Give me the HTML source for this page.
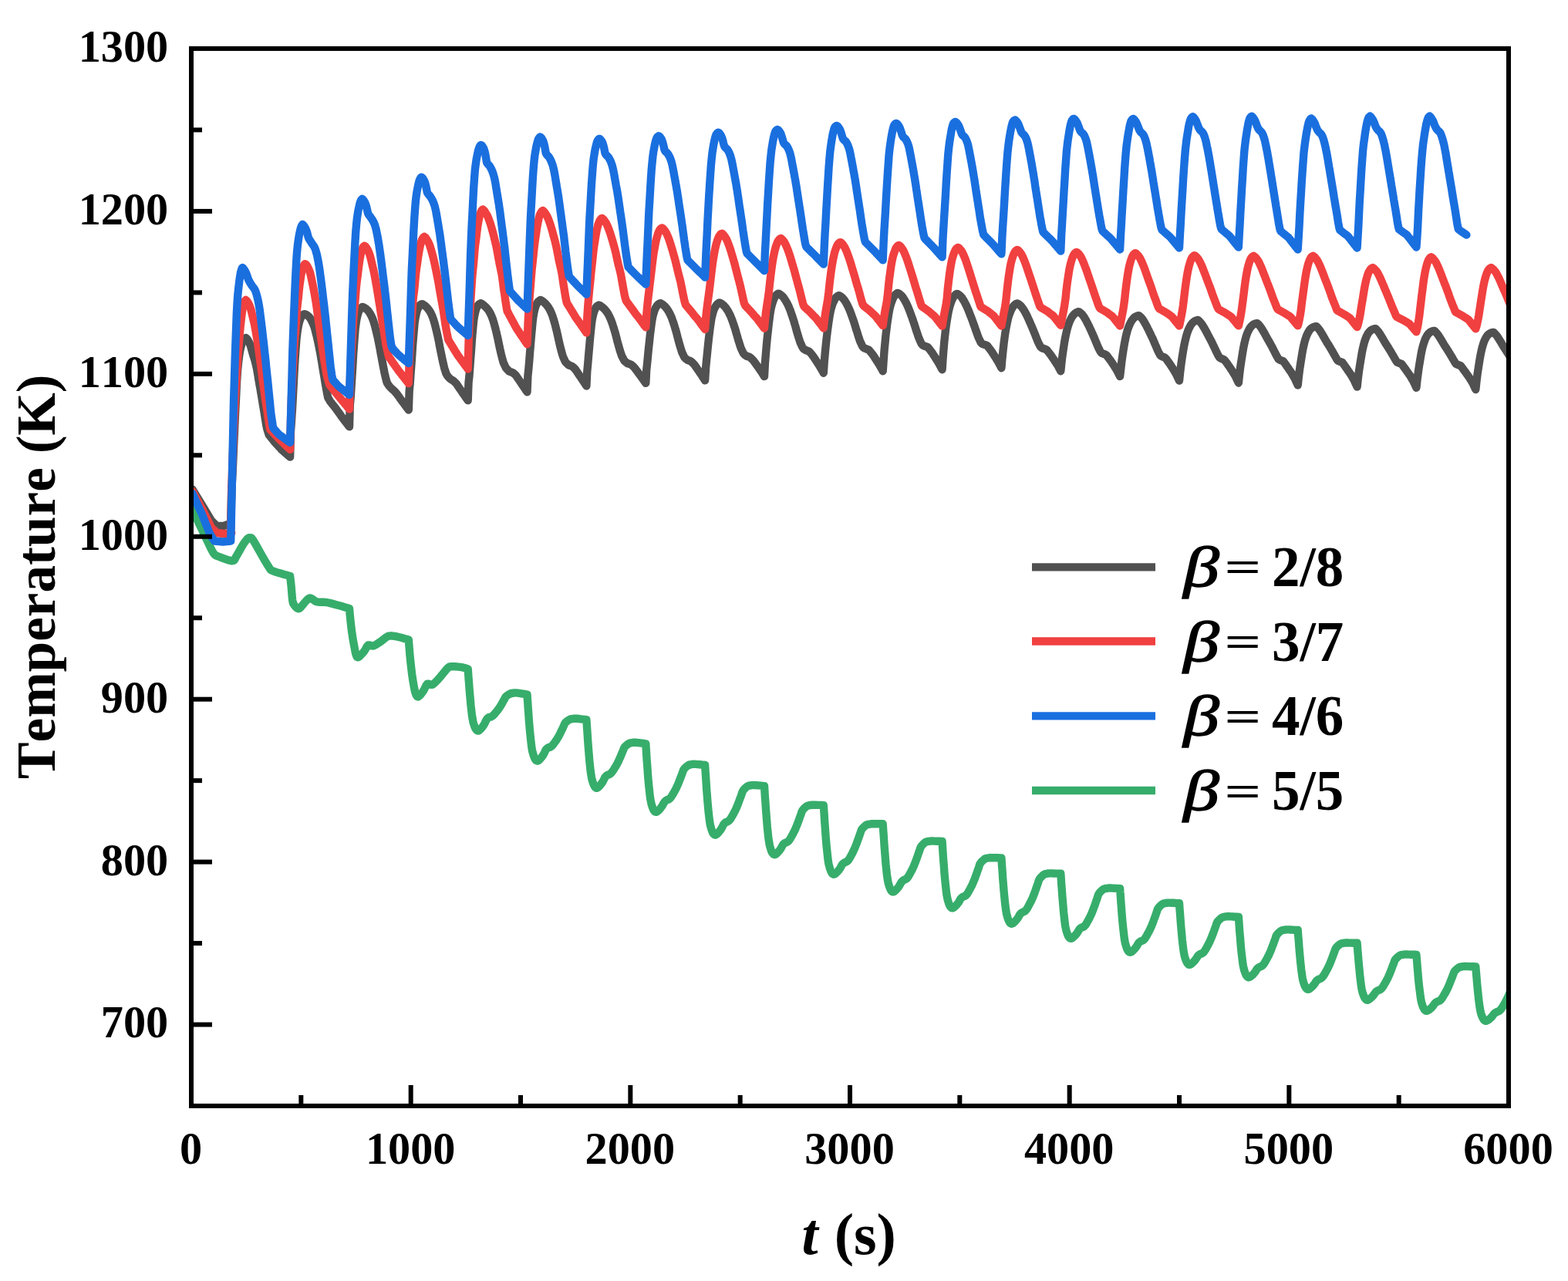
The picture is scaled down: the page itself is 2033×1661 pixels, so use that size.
<!DOCTYPE html>
<html><head><meta charset="utf-8"><title>Temperature vs t</title>
<style>
html,body{margin:0;padding:0;background:#fff;}
body{width:2033px;height:1661px;overflow:hidden;}
svg{display:block;}
text{font-family:"Liberation Serif","Times New Roman",serif;font-weight:bold;fill:#000;font-kerning:none;}
.tk{font-size:58.3px;}
.lg{font-size:73px;}
.ti{font-size:73px;}
.bi{font-style:italic;}
.beta{font-style:italic;font-weight:normal;stroke:#000;stroke-width:1.5px;}
.eq{font-weight:bold;}
.xt{font-size:76px;}
.yt{font-size:71.3px;}
.crv{fill:none;stroke-width:10.4;stroke-linejoin:round;stroke-linecap:round;}
</style></head>
<body>
<svg width="2033" height="1661" viewBox="0 0 2033 1661">
<rect x="0" y="0" width="2033" height="1661" fill="#fff"/>
<defs><clipPath id="cp"><rect x="248" y="63" width="1708" height="1371"/></clipPath></defs>
<g clip-path="url(#cp)">
<path class="crv" stroke="#37ad6b" d="M249.5,661.0 L253.8,669.9 L258.0,678.7 L262.0,687.0 L265.7,694.8 L269.1,702.0 L272.0,708.0 L274.1,712.4 L275.8,715.6 L277.4,718.0 L278.8,719.6 L280.2,720.4 L283.0,721.5 L288.6,723.7 L295.5,726.1 L301.0,727.3 L303.5,726.7 L304.6,724.8 L306.0,722.0 L308.5,717.8 L311.4,712.6 L314.0,708.0 L316.2,704.5 L318.2,701.7 L320.0,699.5 L321.4,698.1 L322.5,697.4 L323.7,697.2 L324.8,697.1 L326.0,697.5 L328.0,700.0 L331.5,705.9 L335.9,713.8 L340.0,721.0 L343.4,726.9 L346.5,732.0 L349.0,736.0 L350.4,738.2 L351.3,739.1 L353.0,740.0 L356.1,741.2 L360.0,742.4 L364.0,743.5 L367.9,744.7 L371.8,745.8 L375.8,747.0 L376.1,747.0 L376.6,751.2 L377.1,755.3 L377.6,760.0 L378.1,765.9 L378.6,772.3 L379.1,777.5 L379.6,780.5 L380.1,782.3 L381.1,784.0 L382.7,786.2 L384.8,788.2 L386.7,789.3 L388.2,788.9 L389.6,787.6 L391.1,786.0 L392.7,784.1 L394.4,782.0 L396.1,780.0 L397.9,778.1 L399.7,776.5 L401.4,775.5 L403.0,775.7 L404.5,776.5 L406.1,777.5 L407.5,778.5 L408.9,779.6 L411.1,780.4 L414.5,780.7 L418.7,780.7 L423.1,781.0 L427.5,781.9 L432.1,783.1 L436.9,784.4 L442.1,785.8 L447.5,787.4 L453.0,789.0 L453.5,795.2 L454.1,801.4 L454.8,807.7 L455.5,814.3 L456.4,820.9 L457.3,827.0 L458.2,832.3 L459.1,836.9 L459.9,840.9 L460.4,844.0 L460.9,846.5 L461.5,848.5 L462.2,850.5 L463.0,852.0 L464.4,852.3 L466.8,850.5 L469.7,847.5 L472.3,844.4 L474.1,841.4 L475.5,838.5 L477.2,836.5 L479.2,836.4 L481.5,837.3 L484.1,837.5 L487.1,836.1 L490.5,833.9 L493.9,831.6 L497.1,829.1 L500.4,826.5 L503.8,824.7 L507.5,824.3 L511.4,824.9 L515.6,825.7 L520.2,826.8 L525.0,828.2 L529.8,829.6 L530.4,836.8 L531.0,844.1 L531.6,851.4 L532.4,859.1 L533.3,866.9 L534.1,873.9 L535.0,880.1 L535.9,885.6 L536.7,890.2 L537.4,893.9 L538.0,896.7 L538.8,899.1 L539.7,901.3 L540.8,903.1 L542.2,903.5 L544.3,901.8 L546.8,898.8 L549.1,895.6 L550.8,892.3 L552.3,889.0 L554.0,886.7 L556.0,886.7 L558.3,887.8 L560.9,887.7 L563.9,885.3 L567.3,881.7 L570.7,877.9 L574.1,873.8 L577.6,869.4 L580.6,866.1 L582.6,864.6 L584.2,864.2 L586.5,864.1 L590.1,864.2 L594.4,864.6 L598.3,865.1 L601.3,865.8 L604.0,866.6 L606.7,867.4 L607.0,871.7 L607.3,876.0 L607.6,880.8 L608.1,886.2 L608.5,892.1 L609.0,898.0 L609.5,903.7 L610.0,909.3 L610.5,915.0 L611.2,921.0 L611.9,927.1 L612.7,932.1 L613.4,935.7 L614.1,938.4 L614.9,940.7 L615.6,942.8 L616.4,944.5 L617.3,945.8 L618.2,946.9 L619.1,947.5 L620.2,947.6 L621.4,947.0 L622.7,945.8 L624.0,944.4 L625.3,942.8 L626.7,940.9 L627.9,939.0 L628.9,936.9 L629.9,934.8 L630.8,933.1 L631.7,931.8 L632.7,930.9 L633.7,930.2 L634.7,929.8 L635.6,929.7 L636.6,929.4 L637.5,929.0 L638.4,928.4 L639.4,927.6 L640.5,926.5 L641.7,925.1 L642.9,923.7 L643.9,922.5 L644.8,921.4 L645.8,920.2 L646.8,918.8 L647.7,917.4 L648.7,915.9 L649.6,914.3 L650.6,912.7 L651.5,911.0 L652.4,909.4 L653.3,907.7 L654.2,906.2 L654.8,904.9 L655.4,903.9 L656.3,902.8 L657.9,901.6 L659.8,900.4 L661.6,899.5 L663.0,899.0 L664.2,898.8 L665.4,898.7 L666.6,898.5 L667.8,898.4 L669.3,898.4 L671.3,898.6 L673.6,898.9 L676.0,899.3 L678.4,899.7 L681.0,900.2 L683.5,900.7 L683.8,905.3 L684.2,910.0 L684.5,915.1 L684.9,920.9 L685.4,927.2 L685.8,933.5 L686.3,939.6 L686.8,945.7 L687.4,951.8 L688.1,958.2 L688.8,964.7 L689.5,970.1 L690.2,974.0 L691.0,976.8 L691.7,979.3 L692.5,981.5 L693.3,983.4 L694.1,984.8 L695.0,985.9 L696.0,986.6 L697.0,986.7 L698.2,986.1 L699.5,984.9 L700.8,983.5 L702.2,981.9 L703.5,980.1 L704.7,978.2 L705.8,976.2 L706.7,974.2 L707.6,972.4 L708.6,971.2 L709.6,970.3 L710.5,969.6 L711.5,969.2 L712.5,969.0 L713.4,968.7 L714.4,968.2 L715.3,967.5 L716.2,966.5 L717.4,965.1 L718.6,963.5 L719.7,961.9 L720.8,960.5 L721.7,959.1 L722.6,957.6 L723.6,956.0 L724.6,954.3 L725.5,952.5 L726.5,950.6 L727.4,948.7 L728.3,946.7 L729.3,944.8 L730.2,942.8 L731.0,941.0 L731.7,939.5 L732.2,938.2 L733.1,936.9 L734.7,935.5 L736.7,934.1 L738.4,933.0 L739.8,932.4 L741.0,932.2 L742.2,932.1 L743.4,931.9 L744.6,931.7 L746.1,931.7 L748.1,931.8 L750.4,932.0 L752.8,932.3 L755.3,932.6 L757.8,932.9 L760.4,933.2 L760.7,938.0 L761.0,942.8 L761.4,948.0 L761.8,954.0 L762.2,960.5 L762.7,967.0 L763.2,973.3 L763.7,979.5 L764.2,985.8 L764.9,992.5 L765.6,999.1 L766.4,1004.7 L767.1,1008.7 L767.8,1011.7 L768.6,1014.2 L769.4,1016.5 L770.2,1018.4 L771.0,1019.9 L771.9,1021.0 L772.8,1021.7 L773.9,1021.8 L775.1,1021.2 L776.4,1020.1 L777.7,1018.7 L779.0,1017.1 L780.4,1015.3 L781.6,1013.5 L782.6,1011.5 L783.6,1009.5 L784.5,1007.8 L785.5,1006.6 L786.4,1005.7 L787.4,1005.0 L788.4,1004.6 L789.3,1004.4 L790.3,1004.0 L791.2,1003.4 L792.1,1002.6 L793.1,1001.6 L794.2,1000.0 L795.5,998.2 L796.6,996.4 L797.6,994.8 L798.6,993.3 L799.5,991.6 L800.5,989.8 L801.4,987.9 L802.4,985.9 L803.3,983.8 L804.3,981.7 L805.2,979.5 L806.1,977.3 L807.0,975.1 L807.9,973.1 L808.5,971.4 L809.1,970.0 L810.0,968.5 L811.6,966.9 L813.5,965.3 L815.3,964.1 L816.7,963.5 L817.9,963.3 L819.1,963.1 L820.3,962.9 L821.5,962.7 L823.0,962.7 L825.0,962.8 L827.3,963.1 L829.7,963.3 L832.2,963.6 L834.7,964.0 L837.3,964.3 L837.6,969.1 L837.9,973.9 L838.2,979.1 L838.6,985.1 L839.1,991.6 L839.6,998.1 L840.0,1004.4 L840.5,1010.6 L841.1,1016.9 L841.8,1023.6 L842.5,1030.2 L843.2,1035.8 L844.0,1039.8 L844.7,1042.8 L845.5,1045.3 L846.2,1047.6 L847.0,1049.5 L847.9,1051.0 L848.8,1052.1 L849.7,1052.7 L850.8,1052.9 L852.0,1052.4 L853.3,1051.3 L854.6,1050.1 L855.9,1048.6 L857.2,1046.9 L858.5,1045.2 L859.5,1043.4 L860.4,1041.6 L861.4,1040.1 L862.3,1039.0 L863.3,1038.1 L864.3,1037.5 L865.2,1037.1 L866.2,1036.8 L867.2,1036.4 L868.1,1035.7 L869.0,1034.9 L870.0,1033.7 L871.1,1032.0 L872.3,1030.0 L873.5,1028.0 L874.5,1026.2 L875.4,1024.5 L876.4,1022.7 L877.3,1020.8 L878.3,1018.6 L879.3,1016.4 L880.2,1014.1 L881.1,1011.7 L882.1,1009.3 L883.0,1006.9 L883.9,1004.5 L884.8,1002.2 L885.4,1000.4 L885.9,998.8 L886.9,997.2 L888.4,995.5 L890.4,993.7 L892.2,992.4 L893.5,991.7 L894.7,991.5 L896.0,991.3 L897.1,991.0 L898.3,990.9 L899.9,990.8 L901.9,990.9 L904.2,991.1 L906.6,991.3 L909.0,991.5 L911.6,991.8 L914.1,992.0 L914.4,996.9 L914.7,1001.8 L915.1,1007.1 L915.5,1013.3 L915.9,1019.9 L916.4,1026.6 L916.9,1033.0 L917.4,1039.4 L918.0,1045.9 L918.6,1052.7 L919.4,1059.5 L920.1,1065.2 L920.8,1069.3 L921.6,1072.3 L922.3,1074.9 L923.1,1077.3 L923.9,1079.2 L924.7,1080.7 L925.6,1081.8 L926.6,1082.5 L927.6,1082.7 L928.8,1082.1 L930.1,1081.0 L931.4,1079.6 L932.7,1078.1 L934.1,1076.3 L935.3,1074.5 L936.4,1072.6 L937.3,1070.6 L938.2,1068.9 L939.2,1067.8 L940.2,1066.9 L941.1,1066.2 L942.1,1065.8 L943.1,1065.5 L944.0,1065.0 L944.9,1064.4 L945.8,1063.5 L946.8,1062.3 L948.0,1060.5 L949.2,1058.4 L950.3,1056.4 L951.3,1054.6 L952.3,1052.8 L953.2,1051.0 L954.2,1048.9 L955.2,1046.7 L956.1,1044.5 L957.1,1042.1 L958.0,1039.6 L958.9,1037.1 L959.8,1034.6 L960.8,1032.1 L961.6,1029.8 L962.2,1027.9 L962.8,1026.3 L963.7,1024.7 L965.3,1022.8 L967.2,1021.0 L969.0,1019.6 L970.4,1018.9 L971.6,1018.7 L972.8,1018.5 L974.0,1018.2 L975.2,1018.1 L976.7,1018.0 L978.7,1018.1 L981.0,1018.2 L983.4,1018.4 L985.9,1018.6 L988.4,1018.9 L991.0,1019.1 L991.3,1023.9 L991.6,1028.7 L991.9,1034.0 L992.4,1040.0 L992.8,1046.5 L993.3,1053.0 L993.8,1059.4 L994.3,1065.7 L994.8,1072.0 L995.5,1078.7 L996.2,1085.4 L997.0,1091.0 L997.7,1095.0 L998.4,1098.0 L999.2,1100.5 L999.9,1102.9 L1000.7,1104.8 L1001.6,1106.2 L1002.5,1107.3 L1003.4,1108.0 L1004.5,1108.2 L1005.7,1107.7 L1007.0,1106.6 L1008.3,1105.4 L1009.6,1103.9 L1011.0,1102.3 L1012.2,1100.6 L1013.2,1098.8 L1014.2,1097.0 L1015.1,1095.4 L1016.0,1094.3 L1017.0,1093.5 L1018.0,1092.9 L1019.0,1092.5 L1019.9,1092.2 L1020.9,1091.7 L1021.8,1091.0 L1022.7,1090.2 L1023.7,1088.9 L1024.8,1087.1 L1026.0,1085.0 L1027.2,1082.9 L1028.2,1081.0 L1029.1,1079.3 L1030.1,1077.4 L1031.1,1075.3 L1032.0,1073.0 L1033.0,1070.7 L1033.9,1068.3 L1034.9,1065.8 L1035.8,1063.2 L1036.7,1060.7 L1037.6,1058.1 L1038.5,1055.8 L1039.1,1053.8 L1039.7,1052.2 L1040.6,1050.5 L1042.2,1048.6 L1044.1,1046.8 L1045.9,1045.4 L1047.3,1044.7 L1048.5,1044.4 L1049.7,1044.2 L1050.9,1044.0 L1052.1,1043.8 L1053.6,1043.7 L1055.6,1043.7 L1057.9,1043.8 L1060.3,1043.9 L1062.7,1043.9 L1065.3,1044.0 L1067.8,1044.1 L1068.1,1048.9 L1068.5,1053.8 L1068.8,1059.1 L1069.2,1065.2 L1069.7,1071.7 L1070.1,1078.3 L1070.6,1084.7 L1071.1,1091.0 L1071.7,1097.4 L1072.4,1104.1 L1073.1,1110.8 L1073.8,1116.5 L1074.5,1120.5 L1075.3,1123.5 L1076.0,1126.1 L1076.8,1128.4 L1077.6,1130.3 L1078.4,1131.8 L1079.3,1132.9 L1080.3,1133.6 L1081.3,1133.8 L1082.5,1133.3 L1083.8,1132.2 L1085.1,1131.0 L1086.5,1129.5 L1087.8,1127.9 L1089.0,1126.2 L1090.1,1124.4 L1091.0,1122.6 L1091.9,1121.0 L1092.9,1119.9 L1093.9,1119.2 L1094.8,1118.5 L1095.8,1118.1 L1096.8,1117.8 L1097.7,1117.3 L1098.7,1116.6 L1099.6,1115.7 L1100.5,1114.4 L1101.7,1112.6 L1102.9,1110.4 L1104.0,1108.3 L1105.1,1106.4 L1106.0,1104.6 L1106.9,1102.6 L1107.9,1100.5 L1108.9,1098.2 L1109.8,1095.9 L1110.8,1093.4 L1111.7,1090.8 L1112.6,1088.2 L1113.6,1085.6 L1114.5,1083.0 L1115.3,1080.6 L1116.0,1078.6 L1116.5,1076.9 L1117.4,1075.2 L1119.0,1073.3 L1121.0,1071.4 L1122.7,1070.0 L1124.1,1069.3 L1125.3,1069.0 L1126.5,1068.8 L1127.7,1068.6 L1128.9,1068.4 L1130.4,1068.3 L1132.4,1068.3 L1134.7,1068.3 L1137.1,1068.3 L1139.6,1068.3 L1142.1,1068.3 L1144.7,1068.3 L1145.0,1073.1 L1145.3,1077.8 L1145.7,1083.0 L1146.1,1089.0 L1146.5,1095.5 L1147.0,1101.9 L1147.5,1108.2 L1148.0,1114.4 L1148.5,1120.7 L1149.2,1127.3 L1149.9,1133.9 L1150.7,1139.5 L1151.4,1143.5 L1152.1,1146.4 L1152.9,1148.9 L1153.7,1151.2 L1154.5,1153.1 L1155.3,1154.6 L1156.2,1155.7 L1157.1,1156.3 L1158.2,1156.5 L1159.4,1156.0 L1160.7,1154.9 L1162.0,1153.7 L1163.3,1152.2 L1164.7,1150.5 L1165.9,1148.8 L1166.9,1147.0 L1167.9,1145.2 L1168.8,1143.7 L1169.8,1142.6 L1170.7,1141.8 L1171.7,1141.1 L1172.7,1140.7 L1173.6,1140.4 L1174.6,1139.9 L1175.5,1139.2 L1176.4,1138.3 L1177.4,1137.0 L1178.5,1135.2 L1179.8,1132.9 L1180.9,1130.8 L1181.9,1128.9 L1182.9,1127.1 L1183.8,1125.1 L1184.8,1123.0 L1185.7,1120.7 L1186.7,1118.3 L1187.6,1115.8 L1188.6,1113.2 L1189.5,1110.6 L1190.4,1107.9 L1191.3,1105.3 L1192.2,1102.9 L1192.8,1100.9 L1193.4,1099.2 L1194.3,1097.5 L1195.9,1095.6 L1197.8,1093.7 L1199.6,1092.2 L1201.0,1091.5 L1202.2,1091.2 L1203.4,1091.0 L1204.6,1090.8 L1205.8,1090.6 L1207.3,1090.5 L1209.3,1090.5 L1211.6,1090.6 L1214.0,1090.7 L1216.5,1090.7 L1219.0,1090.8 L1221.6,1090.9 L1221.9,1095.6 L1222.2,1100.2 L1222.5,1105.4 L1222.9,1111.2 L1223.4,1117.6 L1223.9,1123.9 L1224.3,1130.0 L1224.8,1136.2 L1225.4,1142.3 L1226.1,1148.8 L1226.8,1155.3 L1227.5,1160.8 L1228.3,1164.7 L1229.0,1167.6 L1229.8,1170.1 L1230.5,1172.3 L1231.3,1174.2 L1232.2,1175.6 L1233.1,1176.7 L1234.0,1177.3 L1235.1,1177.5 L1236.3,1177.0 L1237.6,1176.0 L1238.9,1174.8 L1240.2,1173.4 L1241.5,1171.8 L1242.8,1170.2 L1243.8,1168.5 L1244.7,1166.7 L1245.7,1165.2 L1246.6,1164.2 L1247.6,1163.4 L1248.6,1162.8 L1249.5,1162.4 L1250.5,1162.1 L1251.5,1161.6 L1252.4,1160.9 L1253.3,1160.0 L1254.3,1158.7 L1255.4,1156.9 L1256.6,1154.6 L1257.8,1152.5 L1258.8,1150.6 L1259.7,1148.8 L1260.7,1146.8 L1261.6,1144.7 L1262.6,1142.4 L1263.6,1140.0 L1264.5,1137.5 L1265.4,1134.9 L1266.4,1132.3 L1267.3,1129.6 L1268.2,1127.0 L1269.1,1124.6 L1269.7,1122.6 L1270.2,1120.9 L1271.2,1119.2 L1272.7,1117.3 L1274.7,1115.4 L1276.5,1113.9 L1277.8,1113.2 L1279.0,1112.9 L1280.3,1112.7 L1281.4,1112.5 L1282.6,1112.3 L1284.2,1112.2 L1286.2,1112.2 L1288.5,1112.2 L1290.9,1112.3 L1293.3,1112.3 L1295.9,1112.4 L1298.4,1112.4 L1298.7,1117.0 L1299.0,1121.6 L1299.4,1126.7 L1299.8,1132.5 L1300.2,1138.7 L1300.7,1144.9 L1301.2,1151.0 L1301.7,1157.1 L1302.3,1163.1 L1302.9,1169.5 L1303.7,1175.9 L1304.4,1181.3 L1305.1,1185.2 L1305.9,1188.0 L1306.6,1190.5 L1307.4,1192.7 L1308.2,1194.5 L1309.0,1195.9 L1309.9,1197.0 L1310.9,1197.6 L1311.9,1197.8 L1313.1,1197.3 L1314.4,1196.3 L1315.7,1195.1 L1317.0,1193.7 L1318.4,1192.1 L1319.6,1190.4 L1320.7,1188.7 L1321.6,1186.9 L1322.5,1185.5 L1323.5,1184.4 L1324.5,1183.6 L1325.4,1183.0 L1326.4,1182.6 L1327.4,1182.3 L1328.3,1181.8 L1329.2,1181.1 L1330.1,1180.2 L1331.1,1178.9 L1332.3,1177.1 L1333.5,1174.8 L1334.6,1172.7 L1335.6,1170.8 L1336.6,1169.0 L1337.5,1167.0 L1338.5,1164.9 L1339.5,1162.6 L1340.4,1160.2 L1341.4,1157.7 L1342.3,1155.1 L1343.2,1152.5 L1344.1,1149.8 L1345.1,1147.2 L1345.9,1144.8 L1346.5,1142.8 L1347.1,1141.1 L1348.0,1139.4 L1349.6,1137.5 L1351.5,1135.6 L1353.3,1134.1 L1354.7,1133.4 L1355.9,1133.1 L1357.1,1132.9 L1358.3,1132.7 L1359.5,1132.5 L1361.0,1132.4 L1363.0,1132.4 L1365.3,1132.5 L1367.7,1132.6 L1370.2,1132.6 L1372.7,1132.7 L1375.3,1132.8 L1375.6,1137.3 L1375.9,1141.9 L1376.2,1146.8 L1376.7,1152.6 L1377.1,1158.7 L1377.6,1164.8 L1378.1,1170.8 L1378.6,1176.8 L1379.1,1182.8 L1379.8,1189.1 L1380.5,1195.4 L1381.2,1200.7 L1382.0,1204.5 L1382.7,1207.3 L1383.5,1209.7 L1384.2,1211.9 L1385.0,1213.7 L1385.9,1215.0 L1386.8,1216.1 L1387.7,1216.7 L1388.8,1216.9 L1390.0,1216.4 L1391.3,1215.4 L1392.6,1214.3 L1393.9,1212.9 L1395.3,1211.4 L1396.5,1209.8 L1397.5,1208.2 L1398.5,1206.5 L1399.4,1205.1 L1400.3,1204.0 L1401.3,1203.3 L1402.3,1202.7 L1403.3,1202.3 L1404.2,1202.0 L1405.2,1201.5 L1406.1,1200.7 L1407.0,1199.8 L1408.0,1198.6 L1409.1,1196.7 L1410.3,1194.4 L1411.5,1192.3 L1412.5,1190.3 L1413.4,1188.5 L1414.4,1186.5 L1415.4,1184.3 L1416.3,1182.0 L1417.3,1179.6 L1418.2,1177.1 L1419.2,1174.5 L1420.1,1171.8 L1421.0,1169.1 L1421.9,1166.5 L1422.8,1164.0 L1423.4,1162.0 L1424.0,1160.3 L1424.9,1158.6 L1426.5,1156.6 L1428.4,1154.7 L1430.2,1153.2 L1431.6,1152.5 L1432.8,1152.2 L1434.0,1152.0 L1435.2,1151.8 L1436.4,1151.6 L1437.9,1151.5 L1439.9,1151.5 L1442.2,1151.6 L1444.6,1151.7 L1447.0,1151.9 L1449.6,1152.0 L1452.1,1152.1 L1452.4,1156.6 L1452.8,1161.0 L1453.1,1165.9 L1453.5,1171.5 L1454.0,1177.6 L1454.4,1183.6 L1454.9,1189.5 L1455.4,1195.4 L1456.0,1201.2 L1456.7,1207.4 L1457.4,1213.6 L1458.1,1218.8 L1458.8,1222.6 L1459.6,1225.3 L1460.3,1227.7 L1461.1,1229.8 L1461.9,1231.6 L1462.7,1233.0 L1463.6,1234.0 L1464.6,1234.7 L1465.6,1234.8 L1466.8,1234.3 L1468.1,1233.3 L1469.4,1232.1 L1470.8,1230.8 L1472.1,1229.2 L1473.3,1227.6 L1474.4,1226.0 L1475.3,1224.2 L1476.2,1222.8 L1477.2,1221.8 L1478.2,1221.0 L1479.1,1220.4 L1480.1,1220.0 L1481.1,1219.7 L1482.0,1219.2 L1483.0,1218.5 L1483.9,1217.6 L1484.8,1216.4 L1486.0,1214.5 L1487.2,1212.4 L1488.3,1210.2 L1489.4,1208.4 L1490.3,1206.6 L1491.2,1204.7 L1492.2,1202.5 L1493.2,1200.3 L1494.1,1197.9 L1495.1,1195.5 L1496.0,1192.9 L1496.9,1190.4 L1497.9,1187.8 L1498.8,1185.2 L1499.6,1182.8 L1500.3,1180.9 L1500.8,1179.2 L1501.7,1177.5 L1503.3,1175.6 L1505.3,1173.7 L1507.0,1172.3 L1508.4,1171.6 L1509.6,1171.3 L1510.8,1171.1 L1512.0,1170.9 L1513.2,1170.7 L1514.7,1170.6 L1516.7,1170.6 L1519.0,1170.7 L1521.4,1170.8 L1523.9,1171.0 L1526.4,1171.1 L1529.0,1171.2 L1529.3,1175.5 L1529.6,1179.8 L1530.0,1184.5 L1530.4,1189.9 L1530.8,1195.7 L1531.3,1201.6 L1531.8,1207.2 L1532.3,1212.9 L1532.8,1218.5 L1533.5,1224.5 L1534.2,1230.5 L1535.0,1235.5 L1535.7,1239.1 L1536.4,1241.8 L1537.2,1244.0 L1538.0,1246.1 L1538.8,1247.8 L1539.6,1249.1 L1540.5,1250.1 L1541.4,1250.8 L1542.5,1250.9 L1543.7,1250.4 L1545.0,1249.5 L1546.3,1248.4 L1547.6,1247.1 L1549.0,1245.6 L1550.2,1244.1 L1551.2,1242.5 L1552.2,1240.9 L1553.1,1239.5 L1554.1,1238.5 L1555.0,1237.8 L1556.0,1237.2 L1557.0,1236.8 L1557.9,1236.5 L1558.9,1236.0 L1559.8,1235.3 L1560.7,1234.5 L1561.7,1233.2 L1562.8,1231.5 L1564.1,1229.3 L1565.2,1227.2 L1566.2,1225.4 L1567.2,1223.6 L1568.1,1221.7 L1569.1,1219.7 L1570.0,1217.4 L1571.0,1215.1 L1571.9,1212.7 L1572.9,1210.2 L1573.8,1207.7 L1574.7,1205.2 L1575.6,1202.6 L1576.5,1200.3 L1577.1,1198.4 L1577.7,1196.7 L1578.6,1195.0 L1580.2,1193.2 L1582.1,1191.4 L1583.9,1190.0 L1585.3,1189.3 L1586.5,1189.0 L1587.7,1188.8 L1588.9,1188.5 L1590.1,1188.4 L1591.6,1188.3 L1593.6,1188.3 L1595.9,1188.4 L1598.3,1188.5 L1600.8,1188.7 L1603.3,1188.8 L1605.9,1188.9 L1606.2,1193.1 L1606.5,1197.4 L1606.8,1202.0 L1607.2,1207.3 L1607.7,1213.0 L1608.2,1218.8 L1608.6,1224.3 L1609.1,1229.9 L1609.7,1235.5 L1610.4,1241.3 L1611.1,1247.2 L1611.8,1252.2 L1612.6,1255.7 L1613.3,1258.3 L1614.1,1260.6 L1614.8,1262.6 L1615.6,1264.3 L1616.5,1265.6 L1617.4,1266.5 L1618.3,1267.2 L1619.4,1267.3 L1620.6,1266.8 L1621.9,1265.9 L1623.2,1264.8 L1624.5,1263.6 L1625.8,1262.1 L1627.1,1260.6 L1628.1,1259.1 L1629.0,1257.5 L1630.0,1256.1 L1630.9,1255.2 L1631.9,1254.5 L1632.9,1253.9 L1633.8,1253.5 L1634.8,1253.2 L1635.8,1252.7 L1636.7,1252.1 L1637.6,1251.2 L1638.6,1250.0 L1639.7,1248.2 L1640.9,1246.1 L1642.1,1244.0 L1643.1,1242.2 L1644.0,1240.4 L1645.0,1238.6 L1645.9,1236.5 L1646.9,1234.3 L1647.9,1232.0 L1648.8,1229.6 L1649.7,1227.1 L1650.7,1224.7 L1651.6,1222.1 L1652.5,1219.6 L1653.4,1217.3 L1654.0,1215.4 L1654.5,1213.7 L1655.5,1212.1 L1657.0,1210.3 L1659.0,1208.4 L1660.8,1207.0 L1662.1,1206.3 L1663.3,1206.1 L1664.6,1205.9 L1665.7,1205.6 L1666.9,1205.5 L1668.5,1205.4 L1670.5,1205.4 L1672.8,1205.5 L1675.2,1205.6 L1677.6,1205.8 L1680.2,1205.9 L1682.7,1206.0 L1683.0,1210.1 L1683.3,1214.3 L1683.7,1218.8 L1684.1,1224.0 L1684.5,1229.7 L1685.0,1235.3 L1685.5,1240.7 L1686.0,1246.2 L1686.6,1251.6 L1687.2,1257.4 L1688.0,1263.1 L1688.7,1268.0 L1689.4,1271.4 L1690.2,1274.0 L1690.9,1276.2 L1691.7,1278.2 L1692.5,1279.8 L1693.3,1281.1 L1694.2,1282.1 L1695.2,1282.7 L1696.2,1282.8 L1697.4,1282.4 L1698.7,1281.5 L1700.0,1280.4 L1701.3,1279.2 L1702.7,1277.8 L1703.9,1276.3 L1705.0,1274.8 L1705.9,1273.3 L1706.8,1272.0 L1707.8,1271.0 L1708.8,1270.4 L1709.7,1269.8 L1710.7,1269.4 L1711.7,1269.1 L1712.6,1268.7 L1713.5,1268.0 L1714.4,1267.2 L1715.4,1266.0 L1716.6,1264.2 L1717.8,1262.2 L1718.9,1260.2 L1719.9,1258.4 L1720.9,1256.7 L1721.8,1254.9 L1722.8,1252.8 L1723.8,1250.7 L1724.7,1248.5 L1725.7,1246.1 L1726.6,1243.7 L1727.5,1241.3 L1728.4,1238.8 L1729.4,1236.3 L1730.2,1234.1 L1730.8,1232.2 L1731.4,1230.6 L1732.3,1229.0 L1733.9,1227.2 L1735.8,1225.5 L1737.6,1224.1 L1739.0,1223.4 L1740.2,1223.2 L1741.4,1223.0 L1742.6,1222.7 L1743.8,1222.6 L1745.3,1222.5 L1747.3,1222.5 L1749.6,1222.6 L1752.0,1222.6 L1754.5,1222.7 L1757.0,1222.7 L1759.6,1222.8 L1759.9,1226.8 L1760.2,1230.8 L1760.5,1235.1 L1761.0,1240.2 L1761.4,1245.6 L1761.9,1251.0 L1762.4,1256.2 L1762.9,1261.5 L1763.4,1266.7 L1764.1,1272.2 L1764.8,1277.8 L1765.5,1282.4 L1766.3,1285.8 L1767.0,1288.2 L1767.8,1290.3 L1768.5,1292.3 L1769.3,1293.8 L1770.2,1295.1 L1771.1,1296.0 L1772.0,1296.6 L1773.1,1296.7 L1774.3,1296.3 L1775.6,1295.4 L1776.9,1294.4 L1778.2,1293.2 L1779.6,1291.9 L1780.8,1290.5 L1781.8,1289.1 L1782.8,1287.6 L1783.7,1286.4 L1784.6,1285.5 L1785.6,1284.8 L1786.6,1284.3 L1787.6,1283.9 L1788.5,1283.6 L1789.5,1283.2 L1790.4,1282.5 L1791.3,1281.7 L1792.3,1280.5 L1793.4,1278.8 L1794.6,1276.7 L1795.8,1274.8 L1796.8,1273.0 L1797.7,1271.3 L1798.7,1269.5 L1799.7,1267.5 L1800.6,1265.4 L1801.6,1263.2 L1802.5,1260.9 L1803.5,1258.5 L1804.4,1256.1 L1805.3,1253.6 L1806.2,1251.2 L1807.1,1249.0 L1807.7,1247.1 L1808.3,1245.5 L1809.2,1244.0 L1810.8,1242.2 L1812.7,1240.4 L1814.5,1239.1 L1815.9,1238.4 L1817.1,1238.2 L1818.3,1238.0 L1819.5,1237.7 L1820.7,1237.6 L1822.2,1237.5 L1824.2,1237.5 L1826.5,1237.6 L1828.9,1237.7 L1831.3,1237.7 L1833.9,1237.8 L1836.4,1237.9 L1836.7,1241.8 L1837.1,1245.8 L1837.4,1250.1 L1837.8,1255.0 L1838.3,1260.4 L1838.7,1265.7 L1839.2,1270.9 L1839.7,1276.0 L1840.3,1281.2 L1841.0,1286.7 L1841.7,1292.1 L1842.4,1296.7 L1843.1,1300.0 L1843.9,1302.4 L1844.6,1304.5 L1845.4,1306.4 L1846.2,1308.0 L1847.0,1309.2 L1847.9,1310.1 L1848.9,1310.7 L1849.9,1310.8 L1851.1,1310.4 L1852.4,1309.6 L1853.7,1308.6 L1855.1,1307.5 L1856.4,1306.2 L1857.6,1304.8 L1858.7,1303.4 L1859.6,1302.0 L1860.5,1300.8 L1861.5,1299.9 L1862.5,1299.3 L1863.4,1298.8 L1864.4,1298.4 L1865.4,1298.1 L1866.3,1297.7 L1867.3,1297.1 L1868.2,1296.2 L1869.1,1295.1 L1870.3,1293.4 L1871.5,1291.4 L1872.6,1289.5 L1873.7,1287.7 L1874.6,1286.1 L1875.5,1284.3 L1876.5,1282.4 L1877.5,1280.3 L1878.4,1278.1 L1879.4,1275.9 L1880.3,1273.5 L1881.2,1271.2 L1882.2,1268.8 L1883.1,1266.4 L1883.9,1264.2 L1884.6,1262.4 L1885.1,1260.9 L1886.0,1259.3 L1887.6,1257.6 L1889.6,1255.9 L1891.3,1254.6 L1892.7,1253.9 L1893.9,1253.6 L1895.1,1253.5 L1896.3,1253.2 L1897.5,1253.1 L1899.0,1253.0 L1901.0,1253.0 L1903.3,1253.1 L1905.7,1253.2 L1908.2,1253.2 L1910.7,1253.3 L1913.3,1253.4 L1913.6,1257.2 L1913.9,1261.0 L1914.3,1265.2 L1914.7,1269.9 L1915.1,1275.1 L1915.6,1280.2 L1916.1,1285.2 L1916.6,1290.2 L1917.1,1295.2 L1917.8,1300.5 L1918.5,1305.8 L1919.3,1310.2 L1920.0,1313.4 L1920.7,1315.7 L1921.5,1317.7 L1922.3,1319.6 L1923.1,1321.1 L1923.9,1322.3 L1924.8,1323.1 L1925.7,1323.7 L1926.8,1323.8 L1928.0,1323.4 L1929.3,1322.6 L1930.6,1321.7 L1931.9,1320.6 L1933.3,1319.4 L1934.5,1318.1 L1935.5,1316.7 L1936.5,1315.4 L1937.4,1314.2 L1938.4,1313.4 L1939.3,1312.8 L1940.3,1312.3 L1941.3,1311.9 L1942.2,1311.7 L1943.2,1311.2 L1944.1,1310.6 L1945.0,1309.8 L1946.0,1308.7 L1947.1,1307.1 L1948.4,1305.2 L1949.5,1303.3 L1950.5,1301.6 L1951.5,1300.0 L1952.4,1298.3 L1953.4,1296.4 L1954.3,1294.4 L1955.3,1292.3 L1956.2,1290.1 L1957.2,1287.9 L1958.1,1285.6 L1959.0,1283.3 L1959.9,1281.1 L1960.8,1278.9"/>
<path class="crv" stroke="#515151" d="M249.5,634.5 L262.0,655.0 L274.0,675.0 L281.0,682.0 L290.0,682.0 L298.2,679.0 L299.2,679.0 L300.2,635.1 L301.2,619.9 L302.2,600.0 L303.1,578.5 L304.1,556.8 L305.1,534.6 L306.1,514.9 L307.0,496.6 L308.0,481.0 L309.0,470.7 L309.9,462.9 L310.9,456.5 L311.9,451.5 L312.9,447.8 L313.8,444.9 L314.8,442.5 L315.8,440.8 L316.8,439.6 L317.7,438.6 L318.7,438.1 L319.4,438.6 L320.1,439.3 L320.9,440.3 L321.6,441.4 L322.3,442.6 L323.0,444.0 L323.7,445.4 L324.4,447.3 L325.2,449.5 L325.9,452.0 L326.6,454.5 L327.3,457.1 L328.0,459.6 L328.7,461.9 L329.5,464.3 L330.2,466.6 L330.9,469.2 L331.6,472.0 L332.3,475.1 L333.1,478.7 L333.8,482.8 L334.5,487.0 L335.2,491.3 L335.9,495.4 L336.6,499.5 L337.4,503.6 L338.1,507.8 L338.8,512.0 L339.5,516.2 L340.2,520.5 L340.9,524.8 L341.7,529.2 L342.4,533.5 L343.1,537.9 L343.8,542.4 L344.5,546.8 L345.2,551.1 L346.0,555.1 L346.7,557.4 L347.4,559.7 L348.1,561.9 L348.8,564.0 L349.6,564.9 L350.3,565.8 L351.0,566.7 L351.7,567.6 L352.4,568.5 L353.1,569.4 L353.9,570.3 L354.6,571.2 L355.3,572.1 L356.0,573.0 L356.7,573.8 L357.4,574.6 L358.2,575.4 L358.9,576.2 L359.6,576.9 L360.3,577.7 L361.0,578.5 L361.8,579.3 L362.5,580.1 L363.2,580.9 L363.9,581.7 L364.6,582.5 L365.3,583.2 L366.1,583.9 L366.8,584.5 L367.5,585.1 L368.2,585.7 L368.9,586.4 L369.6,587.0 L370.4,587.6 L371.1,588.2 L371.8,588.9 L372.5,589.5 L373.2,590.1 L373.9,590.7 L374.7,591.4 L375.4,592.0 L376.1,592.6 L377.0,558.8 L377.9,547.1 L378.9,531.8 L379.8,515.3 L380.7,498.6 L381.6,481.5 L382.5,466.3 L383.5,452.2 L384.4,440.2 L385.3,432.3 L386.2,426.3 L387.1,421.3 L388.1,417.5 L389.0,414.7 L389.9,412.4 L390.8,410.6 L391.7,409.3 L392.7,408.3 L393.6,407.6 L394.5,407.2 L395.2,407.3 L396.0,407.5 L396.7,407.8 L397.4,408.2 L398.2,408.7 L398.9,409.3 L399.6,409.9 L400.3,410.5 L401.1,411.2 L401.8,412.1 L402.5,413.2 L403.3,414.5 L404.0,415.8 L404.7,417.3 L405.5,418.9 L406.2,420.5 L406.9,422.3 L407.7,424.5 L408.4,427.0 L409.1,429.8 L409.8,432.7 L410.6,435.7 L411.3,438.8 L412.0,442.0 L412.8,445.5 L413.5,449.1 L414.2,452.8 L415.0,456.7 L415.7,460.7 L416.4,464.9 L417.2,469.2 L417.9,473.7 L418.6,478.1 L419.3,482.4 L420.1,486.9 L420.8,491.3 L421.5,495.6 L422.3,500.0 L423.0,504.0 L423.7,507.9 L424.5,511.9 L425.2,515.4 L425.9,516.7 L426.7,518.0 L427.4,519.2 L428.1,520.5 L428.8,521.4 L429.6,522.3 L430.3,523.2 L431.0,524.2 L431.8,525.1 L432.5,526.0 L433.2,526.9 L434.0,527.8 L434.7,528.7 L435.4,529.6 L436.2,530.7 L436.9,531.7 L437.6,532.7 L438.3,533.7 L439.1,534.8 L439.8,535.8 L440.5,536.8 L441.3,537.8 L442.0,538.9 L442.7,539.9 L443.5,540.9 L444.2,542.0 L444.9,542.9 L445.7,543.9 L446.4,544.8 L447.1,545.7 L447.8,546.7 L448.6,547.6 L449.3,548.6 L450.0,549.5 L450.8,550.5 L451.5,551.4 L452.2,552.4 L453.0,553.3 L453.8,525.0 L454.7,515.2 L455.5,502.4 L456.4,488.5 L457.3,474.5 L458.1,460.2 L459.0,447.5 L459.9,435.7 L460.7,425.7 L461.6,419.0 L462.4,414.0 L463.3,409.8 L464.2,406.6 L465.0,404.3 L465.9,402.4 L466.8,400.8 L467.6,399.7 L468.5,398.9 L469.3,398.3 L470.2,398.0 L470.9,398.2 L471.7,398.5 L472.4,398.9 L473.2,399.4 L473.9,399.9 L474.7,400.5 L475.4,401.1 L476.2,401.8 L476.9,402.5 L477.7,403.4 L478.4,404.4 L479.1,405.5 L479.9,406.7 L480.6,408.0 L481.4,409.5 L482.1,411.0 L482.9,412.7 L483.6,414.6 L484.4,416.9 L485.1,419.3 L485.9,421.9 L486.6,424.7 L487.3,427.5 L488.1,430.6 L488.8,433.8 L489.6,437.1 L490.3,440.6 L491.1,444.2 L491.8,448.0 L492.6,451.9 L493.3,456.0 L494.0,460.1 L494.8,464.1 L495.5,468.1 L496.3,472.0 L497.0,475.9 L497.8,479.6 L498.5,483.3 L499.3,486.8 L500.0,489.8 L500.8,492.8 L501.5,495.6 L502.2,497.0 L503.0,498.2 L503.7,499.3 L504.5,500.4 L505.2,501.2 L506.0,502.1 L506.7,502.9 L507.5,503.6 L508.2,504.2 L509.0,504.9 L509.7,505.6 L510.4,506.2 L511.2,506.9 L511.9,507.7 L512.7,508.5 L513.4,509.4 L514.2,510.3 L514.9,511.1 L515.7,512.2 L516.4,513.2 L517.2,514.3 L517.9,515.3 L518.6,516.4 L519.4,517.4 L520.1,518.5 L520.9,519.5 L521.6,520.6 L522.4,521.6 L523.1,522.6 L523.9,523.6 L524.6,524.6 L525.3,525.6 L526.1,526.6 L526.8,527.6 L527.6,528.6 L528.3,529.6 L529.1,530.6 L529.8,531.6 L530.7,506.6 L531.6,497.9 L532.4,486.5 L533.3,474.3 L534.2,461.9 L535.0,449.2 L535.9,437.9 L536.8,427.5 L537.6,418.6 L538.5,412.7 L539.4,408.2 L540.2,404.6 L541.1,401.7 L542.0,399.7 L542.9,398.0 L543.7,396.6 L544.6,395.6 L545.5,394.9 L546.3,394.4 L547.2,394.1 L547.9,394.4 L548.7,394.8 L549.4,395.3 L550.2,395.8 L550.9,396.4 L551.7,397.0 L552.4,397.7 L553.1,398.4 L553.9,399.1 L554.6,400.0 L555.4,400.9 L556.1,401.9 L556.9,403.0 L557.6,404.3 L558.4,405.6 L559.1,407.0 L559.8,408.6 L560.6,410.4 L561.3,412.4 L562.1,414.6 L562.8,417.0 L563.6,419.6 L564.3,422.4 L565.0,425.3 L565.8,428.3 L566.5,431.5 L567.3,434.8 L568.0,438.3 L568.8,441.9 L569.5,445.7 L570.2,449.7 L571.0,453.5 L571.7,457.2 L572.5,460.9 L573.2,464.5 L574.0,468.0 L574.7,471.3 L575.5,474.5 L576.2,477.5 L576.9,479.8 L577.7,482.1 L578.4,484.3 L579.2,485.8 L579.9,486.9 L580.7,487.9 L581.4,488.8 L582.1,489.6 L582.9,490.4 L583.6,491.2 L584.4,491.7 L585.1,492.1 L585.9,492.6 L586.6,493.1 L587.3,493.5 L588.1,494.0 L588.8,494.6 L589.6,495.4 L590.3,496.1 L591.1,496.9 L591.8,497.6 L592.6,498.7 L593.3,499.8 L594.0,500.9 L594.8,502.0 L595.5,503.1 L596.3,504.2 L597.0,505.3 L597.8,506.3 L598.5,507.4 L599.2,508.5 L600.0,509.6 L600.7,510.7 L601.5,511.7 L602.2,512.8 L603.0,513.9 L603.7,514.9 L604.4,516.0 L605.2,517.1 L605.9,518.1 L606.7,519.2 L607.5,496.2 L608.4,488.3 L609.2,477.9 L610.0,466.7 L610.9,455.3 L611.7,443.7 L612.5,433.4 L613.4,423.8 L614.2,415.6 L615.0,410.3 L615.9,406.2 L616.7,402.8 L617.5,400.2 L618.4,398.3 L619.2,396.7 L620.1,395.5 L620.9,394.6 L621.7,394.0 L622.6,393.5 L623.4,393.2 L624.2,393.6 L624.9,394.1 L625.7,394.6 L626.4,395.2 L627.2,395.8 L627.9,396.4 L628.7,397.1 L629.4,397.8 L630.2,398.5 L630.9,399.3 L631.7,400.2 L632.4,401.1 L633.2,402.1 L633.9,403.2 L634.7,404.4 L635.4,405.8 L636.2,407.3 L636.9,408.9 L637.7,410.7 L638.4,412.6 L639.2,414.7 L639.9,417.1 L640.7,419.7 L641.4,422.5 L642.2,425.3 L642.9,428.3 L643.7,431.4 L644.4,434.6 L645.2,438.0 L646.0,441.7 L646.7,445.4 L647.5,449.0 L648.2,452.4 L649.0,455.8 L649.7,459.0 L650.5,462.0 L651.2,464.8 L652.0,467.6 L652.7,470.2 L653.5,471.8 L654.2,473.4 L655.0,475.0 L655.7,476.6 L656.5,477.7 L657.2,478.5 L658.0,479.2 L658.7,480.0 L659.5,480.8 L660.2,481.5 L661.0,481.8 L661.7,482.1 L662.5,482.4 L663.2,482.6 L664.0,482.9 L664.7,483.2 L665.5,483.7 L666.2,484.3 L667.0,485.0 L667.8,485.6 L668.5,486.2 L669.3,487.3 L670.0,488.4 L670.8,489.5 L671.5,490.6 L672.3,491.7 L673.0,492.8 L673.8,493.9 L674.5,495.0 L675.3,496.1 L676.0,497.3 L676.8,498.4 L677.5,499.5 L678.3,500.6 L679.0,501.7 L679.8,502.8 L680.5,503.9 L681.3,505.0 L682.0,506.1 L682.8,507.2 L683.5,508.3 L684.4,487.2 L685.3,478.7 L686.2,468.4 L687.0,457.8 L687.9,447.2 L688.8,436.5 L689.7,427.0 L690.5,418.2 L691.4,410.8 L692.3,405.8 L693.1,401.9 L694.0,398.7 L694.9,396.1 L695.8,394.2 L696.6,392.7 L697.5,391.4 L698.4,390.5 L699.3,389.8 L700.1,389.3 L701.0,389.0 L701.7,389.4 L702.5,389.8 L703.2,390.3 L704.0,390.9 L704.7,391.5 L705.5,392.1 L706.2,392.8 L706.9,393.5 L707.7,394.3 L708.4,395.1 L709.2,396.0 L709.9,397.0 L710.7,398.0 L711.4,399.1 L712.1,400.3 L712.9,401.7 L713.6,403.2 L714.4,404.8 L715.1,406.5 L715.9,408.4 L716.6,410.4 L717.3,412.7 L718.1,415.2 L718.8,417.8 L719.6,420.5 L720.3,423.2 L721.0,426.2 L721.8,429.2 L722.5,432.4 L723.3,435.8 L724.0,439.2 L724.8,442.6 L725.5,445.8 L726.2,448.9 L727.0,451.9 L727.7,454.8 L728.5,457.5 L729.2,460.0 L730.0,462.5 L730.7,464.1 L731.4,465.7 L732.2,467.3 L732.9,468.9 L733.7,469.9 L734.4,470.6 L735.2,471.4 L735.9,472.0 L736.6,472.7 L737.4,473.4 L738.1,473.7 L738.9,473.9 L739.6,474.2 L740.4,474.5 L741.1,474.8 L741.8,475.1 L742.6,475.7 L743.3,476.3 L744.1,477.0 L744.8,477.7 L745.5,478.3 L746.3,479.4 L747.0,480.4 L747.8,481.5 L748.5,482.6 L749.3,483.8 L750.0,484.9 L750.7,486.0 L751.5,487.1 L752.2,488.2 L753.0,489.3 L753.7,490.4 L754.5,491.5 L755.2,492.6 L755.9,493.7 L756.7,494.8 L757.4,496.0 L758.2,497.1 L758.9,498.2 L759.7,499.4 L760.4,500.5 L761.2,482.4 L762.0,474.1 L762.8,464.8 L763.6,455.3 L764.4,446.1 L765.2,437.0 L766.0,428.9 L766.8,421.5 L767.6,415.1 L768.5,410.8 L769.3,407.3 L770.1,404.5 L770.9,402.2 L771.7,400.5 L772.5,399.0 L773.3,397.8 L774.1,397.0 L774.9,396.3 L775.7,395.8 L776.5,395.5 L777.3,395.8 L778.0,396.2 L778.8,396.7 L779.5,397.2 L780.3,397.8 L781.1,398.4 L781.8,399.0 L782.6,399.6 L783.3,400.4 L784.1,401.2 L784.9,402.1 L785.6,403.0 L786.4,404.0 L787.1,405.0 L787.9,406.2 L788.7,407.5 L789.4,408.9 L790.2,410.4 L790.9,412.0 L791.7,413.7 L792.4,415.5 L793.2,417.6 L794.0,419.8 L794.7,422.1 L795.5,424.5 L796.2,426.9 L797.0,429.5 L797.8,432.1 L798.5,434.9 L799.3,437.8 L800.0,440.8 L800.8,443.8 L801.6,446.6 L802.3,449.3 L803.1,452.0 L803.8,454.5 L804.6,456.9 L805.4,459.2 L806.1,461.4 L806.9,462.9 L807.6,464.3 L808.4,465.8 L809.2,467.3 L809.9,468.2 L810.7,468.9 L811.4,469.5 L812.2,470.1 L813.0,470.6 L813.7,471.2 L814.5,471.4 L815.2,471.7 L816.0,471.9 L816.8,472.2 L817.5,472.4 L818.3,472.8 L819.0,473.4 L819.8,474.1 L820.6,474.7 L821.3,475.4 L822.1,476.1 L822.8,477.0 L823.6,478.0 L824.3,479.0 L825.1,480.0 L825.9,481.1 L826.6,482.1 L827.4,483.1 L828.1,484.2 L828.9,485.2 L829.7,486.2 L830.4,487.3 L831.2,488.3 L831.9,489.3 L832.7,490.4 L833.5,491.4 L834.2,492.5 L835.0,493.6 L835.7,494.7 L836.5,495.8 L837.3,496.9 L838.2,479.6 L839.2,470.5 L840.1,461.0 L841.0,451.6 L842.0,442.6 L842.9,433.8 L843.9,426.1 L844.8,419.0 L845.8,413.0 L846.7,408.7 L847.7,405.3 L848.6,402.5 L849.6,400.2 L850.5,398.4 L851.5,396.8 L852.4,395.6 L853.4,394.7 L854.3,394.0 L855.3,393.4 L856.2,393.1 L856.9,393.4 L857.6,393.8 L858.4,394.3 L859.1,394.8 L859.8,395.3 L860.5,395.9 L861.3,396.6 L862.0,397.2 L862.7,398.0 L863.4,398.9 L864.2,399.8 L864.9,400.8 L865.6,401.8 L866.3,402.9 L867.1,404.1 L867.8,405.4 L868.5,406.8 L869.2,408.3 L870.0,409.9 L870.7,411.6 L871.4,413.5 L872.1,415.5 L872.9,417.6 L873.6,419.8 L874.3,422.1 L875.0,424.4 L875.7,426.9 L876.5,429.4 L877.2,432.0 L877.9,434.8 L878.6,437.6 L879.4,440.4 L880.1,443.1 L880.8,445.7 L881.5,448.2 L882.3,450.7 L883.0,453.0 L883.7,455.2 L884.4,457.3 L885.2,458.8 L885.9,460.3 L886.6,461.8 L887.3,463.2 L888.1,464.1 L888.8,464.8 L889.5,465.4 L890.2,465.9 L891.0,466.4 L891.7,466.9 L892.4,467.2 L893.1,467.4 L893.8,467.7 L894.6,467.9 L895.3,468.2 L896.0,468.6 L896.7,469.3 L897.5,470.0 L898.2,470.7 L898.9,471.4 L899.6,472.1 L900.4,473.0 L901.1,474.0 L901.8,475.0 L902.5,476.1 L903.3,477.1 L904.0,478.2 L904.7,479.2 L905.4,480.3 L906.2,481.3 L906.9,482.4 L907.6,483.4 L908.3,484.5 L909.1,485.5 L909.8,486.6 L910.5,487.7 L911.2,488.9 L911.9,490.0 L912.7,491.1 L913.4,492.3 L914.1,493.4 L915.1,477.1 L916.0,467.4 L917.0,457.8 L917.9,448.7 L918.8,440.1 L919.8,431.8 L920.7,424.6 L921.7,418.0 L922.6,412.3 L923.6,408.2 L924.5,404.9 L925.4,402.1 L926.4,399.8 L927.3,398.0 L928.3,396.4 L929.2,395.1 L930.2,394.2 L931.1,393.4 L932.1,392.8 L933.0,392.5 L933.7,392.8 L934.4,393.2 L935.2,393.6 L935.9,394.1 L936.6,394.6 L937.3,395.2 L938.1,395.8 L938.8,396.5 L939.5,397.3 L940.2,398.1 L941.0,399.1 L941.7,400.0 L942.4,401.1 L943.1,402.2 L943.9,403.3 L944.6,404.6 L945.3,406.0 L946.0,407.5 L946.8,409.0 L947.5,410.6 L948.2,412.4 L948.9,414.3 L949.7,416.3 L950.4,418.4 L951.1,420.4 L951.8,422.6 L952.6,424.8 L953.3,427.1 L954.0,429.5 L954.7,432.0 L955.5,434.6 L956.2,437.1 L956.9,439.6 L957.6,442.0 L958.4,444.4 L959.1,446.6 L959.8,448.8 L960.5,450.9 L961.3,452.8 L962.0,454.3 L962.7,455.7 L963.4,457.2 L964.2,458.5 L964.9,459.4 L965.6,460.0 L966.3,460.6 L967.1,461.0 L967.8,461.4 L968.5,461.9 L969.2,462.1 L970.0,462.3 L970.7,462.6 L971.4,462.8 L972.1,463.1 L972.9,463.6 L973.6,464.2 L974.3,465.0 L975.0,465.7 L975.8,466.4 L976.5,467.1 L977.2,468.0 L977.9,469.0 L978.7,470.0 L979.4,471.0 L980.1,472.0 L980.8,473.0 L981.6,474.1 L982.3,475.1 L983.0,476.1 L983.7,477.1 L984.5,478.2 L985.2,479.2 L985.9,480.2 L986.6,481.3 L987.4,482.4 L988.1,483.5 L988.8,484.7 L989.5,485.8 L990.3,487.0 L991.0,488.1 L991.9,471.3 L992.8,460.1 L993.7,449.6 L994.6,439.8 L995.6,430.7 L996.5,422.2 L997.4,414.8 L998.3,408.0 L999.2,402.2 L1000.1,397.9 L1001.1,394.3 L1002.0,391.4 L1002.9,388.9 L1003.8,386.8 L1004.7,385.0 L1005.6,383.6 L1006.6,382.5 L1007.5,381.7 L1008.4,381.0 L1009.3,380.6 L1010.0,380.9 L1010.8,381.3 L1011.5,381.7 L1012.2,382.3 L1013.0,382.9 L1013.7,383.5 L1014.4,384.2 L1015.2,384.9 L1015.9,385.8 L1016.6,386.8 L1017.3,387.9 L1018.1,389.0 L1018.8,390.1 L1019.5,391.4 L1020.3,392.7 L1021.0,394.1 L1021.7,395.6 L1022.5,397.2 L1023.2,398.9 L1023.9,400.7 L1024.7,402.6 L1025.4,404.7 L1026.1,406.8 L1026.9,408.9 L1027.6,411.1 L1028.3,413.3 L1029.1,415.6 L1029.8,418.0 L1030.5,420.5 L1031.3,423.0 L1032.0,425.7 L1032.7,428.3 L1033.4,430.8 L1034.2,433.3 L1034.9,435.8 L1035.6,438.1 L1036.4,440.4 L1037.1,442.7 L1037.8,444.6 L1038.6,446.2 L1039.3,447.8 L1040.0,449.4 L1040.8,450.9 L1041.5,451.8 L1042.2,452.6 L1043.0,453.1 L1043.7,453.5 L1044.4,453.9 L1045.2,454.3 L1045.9,454.6 L1046.6,454.8 L1047.4,455.1 L1048.1,455.4 L1048.8,455.6 L1049.5,456.2 L1050.3,457.0 L1051.0,457.9 L1051.7,458.7 L1052.5,459.6 L1053.2,460.4 L1053.9,461.4 L1054.7,462.4 L1055.4,463.5 L1056.1,464.6 L1056.9,465.7 L1057.6,466.9 L1058.3,468.0 L1059.1,469.1 L1059.8,470.3 L1060.5,471.4 L1061.3,472.5 L1062.0,473.7 L1062.7,474.8 L1063.4,476.0 L1064.2,477.3 L1064.9,478.5 L1065.6,479.8 L1066.4,481.1 L1067.1,482.4 L1067.8,483.7 L1068.8,468.5 L1069.8,457.2 L1070.8,447.0 L1071.8,437.8 L1072.8,429.5 L1073.8,421.8 L1074.8,415.1 L1075.7,409.0 L1076.7,403.7 L1077.7,399.8 L1078.7,396.5 L1079.7,393.6 L1080.7,391.3 L1081.7,389.3 L1082.7,387.5 L1083.6,386.1 L1084.6,385.0 L1085.6,384.2 L1086.6,383.5 L1087.6,383.1 L1088.3,383.4 L1089.0,383.7 L1089.7,384.2 L1090.5,384.7 L1091.2,385.3 L1091.9,385.9 L1092.6,386.5 L1093.3,387.3 L1094.0,388.1 L1094.7,389.1 L1095.5,390.2 L1096.2,391.3 L1096.9,392.5 L1097.6,393.7 L1098.3,395.0 L1099.0,396.4 L1099.7,397.9 L1100.4,399.4 L1101.2,401.0 L1101.9,402.8 L1102.6,404.6 L1103.3,406.5 L1104.0,408.4 L1104.7,410.4 L1105.4,412.4 L1106.2,414.5 L1106.9,416.6 L1107.6,418.7 L1108.3,421.0 L1109.0,423.3 L1109.7,425.7 L1110.4,428.0 L1111.2,430.3 L1111.9,432.6 L1112.6,434.9 L1113.3,437.1 L1114.0,439.2 L1114.7,441.3 L1115.4,443.1 L1116.2,444.7 L1116.9,446.2 L1117.6,447.8 L1118.3,449.2 L1119.0,450.0 L1119.7,450.7 L1120.4,451.2 L1121.1,451.6 L1121.9,451.9 L1122.6,452.2 L1123.3,452.5 L1124.0,452.7 L1124.7,453.0 L1125.4,453.2 L1126.1,453.5 L1126.9,454.1 L1127.6,454.9 L1128.3,455.8 L1129.0,456.6 L1129.7,457.5 L1130.4,458.4 L1131.1,459.3 L1131.9,460.3 L1132.6,461.3 L1133.3,462.4 L1134.0,463.5 L1134.7,464.6 L1135.4,465.7 L1136.1,466.8 L1136.8,467.9 L1137.6,469.0 L1138.3,470.1 L1139.0,471.2 L1139.7,472.3 L1140.4,473.5 L1141.1,474.8 L1141.8,476.1 L1142.6,477.3 L1143.3,478.6 L1144.0,479.9 L1144.7,481.2 L1145.7,466.4 L1146.6,454.2 L1147.6,443.7 L1148.5,434.3 L1149.5,426.1 L1150.4,418.6 L1151.4,412.1 L1152.3,406.2 L1153.3,401.1 L1154.2,397.2 L1155.2,393.9 L1156.2,391.0 L1157.1,388.6 L1158.1,386.5 L1159.0,384.6 L1160.0,383.1 L1160.9,382.0 L1161.9,381.1 L1162.8,380.3 L1163.8,379.9 L1164.5,380.2 L1165.2,380.5 L1166.0,381.0 L1166.7,381.5 L1167.4,382.1 L1168.1,382.7 L1168.9,383.4 L1169.6,384.2 L1170.3,385.1 L1171.0,386.1 L1171.7,387.3 L1172.5,388.5 L1173.2,389.7 L1173.9,391.0 L1174.6,392.3 L1175.4,393.8 L1176.1,395.3 L1176.8,396.9 L1177.5,398.6 L1178.2,400.3 L1179.0,402.2 L1179.7,404.1 L1180.4,406.0 L1181.1,408.0 L1181.8,409.9 L1182.6,411.9 L1183.3,414.0 L1184.0,416.0 L1184.7,418.2 L1185.5,420.4 L1186.2,422.7 L1186.9,424.9 L1187.6,427.2 L1188.3,429.4 L1189.1,431.6 L1189.8,433.7 L1190.5,435.9 L1191.2,437.9 L1192.0,439.7 L1192.7,441.3 L1193.4,442.9 L1194.1,444.5 L1194.8,445.9 L1195.6,446.7 L1196.3,447.5 L1197.0,448.0 L1197.7,448.3 L1198.5,448.6 L1199.2,448.9 L1199.9,449.1 L1200.6,449.3 L1201.3,449.6 L1202.1,449.8 L1202.8,450.1 L1203.5,450.8 L1204.2,451.7 L1205.0,452.6 L1205.7,453.6 L1206.4,454.5 L1207.1,455.4 L1207.8,456.4 L1208.6,457.3 L1209.3,458.5 L1210.0,459.6 L1210.7,460.7 L1211.5,461.9 L1212.2,463.0 L1212.9,464.1 L1213.6,465.3 L1214.3,466.4 L1215.1,467.6 L1215.8,468.7 L1216.5,469.9 L1217.2,471.1 L1218.0,472.4 L1218.7,473.8 L1219.4,475.1 L1220.1,476.5 L1220.8,477.8 L1221.6,479.2 L1222.5,465.3 L1223.5,452.7 L1224.4,442.2 L1225.4,433.1 L1226.3,425.2 L1227.3,418.1 L1228.3,412.1 L1229.2,406.6 L1230.2,401.9 L1231.1,398.2 L1232.1,394.9 L1233.0,392.1 L1234.0,389.7 L1235.0,387.6 L1235.9,385.7 L1236.9,384.2 L1237.8,383.1 L1238.8,382.1 L1239.7,381.4 L1240.7,380.9 L1241.4,381.1 L1242.1,381.5 L1242.9,381.9 L1243.6,382.4 L1244.3,383.0 L1245.0,383.6 L1245.8,384.3 L1246.5,385.1 L1247.2,386.0 L1247.9,387.1 L1248.6,388.3 L1249.4,389.5 L1250.1,390.7 L1250.8,392.0 L1251.5,393.4 L1252.2,394.8 L1253.0,396.3 L1253.7,397.9 L1254.4,399.5 L1255.1,401.2 L1255.9,403.0 L1256.6,404.8 L1257.3,406.7 L1258.0,408.5 L1258.7,410.3 L1259.5,412.2 L1260.2,414.1 L1260.9,416.0 L1261.6,418.0 L1262.3,420.0 L1263.1,422.0 L1263.8,424.1 L1264.5,426.2 L1265.2,428.3 L1266.0,430.3 L1266.7,432.4 L1267.4,434.3 L1268.1,436.3 L1268.8,438.0 L1269.6,439.6 L1270.3,441.1 L1271.0,442.7 L1271.7,444.1 L1272.4,444.9 L1273.2,445.6 L1273.9,446.1 L1274.6,446.3 L1275.3,446.5 L1276.1,446.8 L1276.8,447.0 L1277.5,447.2 L1278.2,447.5 L1278.9,447.7 L1279.7,448.0 L1280.4,448.7 L1281.1,449.7 L1281.8,450.6 L1282.5,451.6 L1283.3,452.5 L1284.0,453.5 L1284.7,454.4 L1285.4,455.3 L1286.2,456.5 L1286.9,457.6 L1287.6,458.7 L1288.3,459.8 L1289.0,460.9 L1289.8,462.1 L1290.5,463.2 L1291.2,464.3 L1291.9,465.5 L1292.6,466.6 L1293.4,467.8 L1294.1,469.0 L1294.8,470.3 L1295.5,471.7 L1296.3,473.1 L1297.0,474.5 L1297.7,475.8 L1298.4,477.2 L1299.4,465.3 L1300.5,454.6 L1301.5,445.7 L1302.5,437.8 L1303.5,430.8 L1304.6,424.7 L1305.6,419.5 L1306.6,414.8 L1307.6,410.8 L1308.7,407.6 L1309.7,404.9 L1310.7,402.5 L1311.7,400.5 L1312.8,398.7 L1313.8,397.2 L1314.8,396.0 L1315.8,395.1 L1316.9,394.3 L1317.9,393.7 L1318.9,393.4 L1319.6,393.7 L1320.3,394.1 L1321.0,394.5 L1321.7,395.1 L1322.4,395.7 L1323.1,396.3 L1323.8,397.0 L1324.5,397.8 L1325.2,398.7 L1325.9,399.7 L1326.7,400.8 L1327.4,401.9 L1328.1,403.0 L1328.8,404.2 L1329.5,405.5 L1330.2,406.8 L1330.9,408.2 L1331.6,409.6 L1332.3,411.0 L1333.0,412.6 L1333.7,414.1 L1334.4,415.7 L1335.1,417.3 L1335.8,418.9 L1336.5,420.5 L1337.2,422.1 L1337.9,423.7 L1338.6,425.4 L1339.3,427.1 L1340.0,428.8 L1340.7,430.6 L1341.5,432.4 L1342.2,434.2 L1342.9,436.0 L1343.6,437.8 L1344.3,439.5 L1345.0,441.3 L1345.7,443.0 L1346.4,444.5 L1347.1,445.9 L1347.8,447.3 L1348.5,448.6 L1349.2,449.8 L1349.9,450.4 L1350.6,451.0 L1351.3,451.4 L1352.0,451.6 L1352.7,451.9 L1353.4,452.1 L1354.1,452.3 L1354.8,452.5 L1355.5,452.9 L1356.3,453.2 L1357.0,453.6 L1357.7,454.3 L1358.4,455.2 L1359.1,456.1 L1359.8,457.0 L1360.5,457.9 L1361.2,458.8 L1361.9,459.7 L1362.6,460.6 L1363.3,461.6 L1364.0,462.7 L1364.7,463.7 L1365.4,464.7 L1366.1,465.8 L1366.8,466.8 L1367.5,467.9 L1368.2,469.0 L1368.9,470.0 L1369.6,471.1 L1370.3,472.2 L1371.1,473.3 L1371.8,474.6 L1372.5,475.9 L1373.2,477.3 L1373.9,478.6 L1374.6,479.9 L1375.3,481.2 L1376.4,470.1 L1377.6,460.4 L1378.8,452.2 L1379.9,444.9 L1381.1,438.3 L1382.3,432.5 L1383.4,427.6 L1384.6,423.4 L1385.8,419.7 L1386.9,416.7 L1388.1,414.2 L1389.3,412.0 L1390.4,410.2 L1391.6,408.7 L1392.8,407.3 L1393.9,406.3 L1395.1,405.5 L1396.3,404.9 L1397.4,404.4 L1398.6,404.1 L1399.3,404.5 L1399.9,404.9 L1400.6,405.4 L1401.3,406.0 L1401.9,406.6 L1402.6,407.3 L1403.3,408.0 L1404.0,408.8 L1404.6,409.7 L1405.3,410.7 L1406.0,411.8 L1406.6,412.9 L1407.3,414.0 L1408.0,415.2 L1408.6,416.4 L1409.3,417.7 L1410.0,419.0 L1410.6,420.3 L1411.3,421.6 L1412.0,423.0 L1412.7,424.5 L1413.3,425.9 L1414.0,427.3 L1414.7,428.8 L1415.3,430.2 L1416.0,431.7 L1416.7,433.2 L1417.3,434.7 L1418.0,436.2 L1418.7,437.8 L1419.3,439.4 L1420.0,441.0 L1420.7,442.7 L1421.4,444.3 L1422.0,445.9 L1422.7,447.5 L1423.4,449.1 L1424.0,450.6 L1424.7,452.0 L1425.4,453.3 L1426.0,454.6 L1426.7,455.9 L1427.4,456.8 L1428.0,457.4 L1428.7,457.9 L1429.4,458.2 L1430.1,458.5 L1430.7,458.7 L1431.4,458.9 L1432.1,459.2 L1432.7,459.4 L1433.4,459.8 L1434.1,460.3 L1434.7,460.8 L1435.4,461.5 L1436.1,462.4 L1436.7,463.3 L1437.4,464.2 L1438.1,465.1 L1438.8,466.0 L1439.4,466.9 L1440.1,467.8 L1440.8,468.8 L1441.4,469.7 L1442.1,470.7 L1442.8,471.7 L1443.4,472.7 L1444.1,473.7 L1444.8,474.8 L1445.4,475.9 L1446.1,477.0 L1446.8,478.0 L1447.5,479.1 L1448.1,480.2 L1448.8,481.5 L1449.5,482.8 L1450.1,484.1 L1450.8,485.5 L1451.5,486.8 L1452.1,488.1 L1453.4,476.6 L1454.6,466.7 L1455.8,458.4 L1457.0,450.9 L1458.2,443.9 L1459.4,437.9 L1460.6,432.8 L1461.8,428.4 L1463.1,424.6 L1464.3,421.5 L1465.5,419.0 L1466.7,416.8 L1467.9,414.9 L1469.1,413.4 L1470.3,412.1 L1471.5,411.1 L1472.8,410.4 L1474.0,409.8 L1475.2,409.3 L1476.4,409.1 L1477.1,409.5 L1477.7,410.0 L1478.4,410.6 L1479.0,411.3 L1479.7,412.0 L1480.3,412.7 L1481.0,413.5 L1481.7,414.4 L1482.3,415.3 L1483.0,416.4 L1483.6,417.5 L1484.3,418.6 L1484.9,419.8 L1485.6,421.0 L1486.3,422.2 L1486.9,423.5 L1487.6,424.8 L1488.2,426.1 L1488.9,427.4 L1489.6,428.7 L1490.2,430.1 L1490.9,431.5 L1491.5,432.8 L1492.2,434.2 L1492.8,435.6 L1493.5,437.0 L1494.2,438.4 L1494.8,439.8 L1495.5,441.3 L1496.1,442.8 L1496.8,444.3 L1497.4,445.9 L1498.1,447.4 L1498.8,448.9 L1499.4,450.5 L1500.1,452.0 L1500.7,453.5 L1501.4,455.0 L1502.0,456.4 L1502.7,457.7 L1503.4,458.9 L1504.0,460.1 L1504.7,461.0 L1505.3,461.4 L1506.0,461.9 L1506.6,462.2 L1507.3,462.5 L1508.0,462.7 L1508.6,462.9 L1509.3,463.2 L1509.9,463.4 L1510.6,463.9 L1511.2,464.6 L1511.9,465.2 L1512.6,466.0 L1513.2,466.9 L1513.9,467.9 L1514.5,468.8 L1515.2,469.7 L1515.8,470.6 L1516.5,471.6 L1517.2,472.5 L1517.8,473.5 L1518.5,474.5 L1519.1,475.5 L1519.8,476.5 L1520.5,477.5 L1521.1,478.6 L1521.8,479.7 L1522.4,480.8 L1523.1,481.9 L1523.7,483.0 L1524.4,484.1 L1525.1,485.3 L1525.7,486.7 L1526.4,488.0 L1527.0,489.4 L1527.7,490.8 L1528.3,492.2 L1529.0,493.6 L1530.2,482.1 L1531.4,472.3 L1532.6,464.1 L1533.8,456.5 L1535.0,449.3 L1536.3,443.2 L1537.5,438.1 L1538.7,433.7 L1539.9,430.0 L1541.1,426.9 L1542.3,424.4 L1543.5,422.2 L1544.7,420.4 L1545.9,418.9 L1547.2,417.7 L1548.4,416.8 L1549.6,416.1 L1550.8,415.6 L1552.0,415.2 L1553.2,415.0 L1553.9,415.5 L1554.5,416.1 L1555.2,416.7 L1555.8,417.4 L1556.5,418.1 L1557.1,418.9 L1557.8,419.7 L1558.5,420.6 L1559.1,421.6 L1559.8,422.7 L1560.4,423.7 L1561.1,424.9 L1561.8,426.0 L1562.4,427.1 L1563.1,428.3 L1563.7,429.5 L1564.4,430.8 L1565.0,432.0 L1565.7,433.3 L1566.4,434.5 L1567.0,435.8 L1567.7,437.0 L1568.3,438.3 L1569.0,439.5 L1569.7,440.8 L1570.3,442.0 L1571.0,443.3 L1571.6,444.6 L1572.3,446.0 L1572.9,447.3 L1573.6,448.7 L1574.3,450.1 L1574.9,451.5 L1575.6,452.9 L1576.2,454.3 L1576.9,455.7 L1577.6,457.0 L1578.2,458.4 L1578.9,459.7 L1579.5,460.9 L1580.2,462.0 L1580.8,463.2 L1581.5,463.8 L1582.2,464.2 L1582.8,464.6 L1583.5,464.9 L1584.1,465.2 L1584.8,465.4 L1585.5,465.7 L1586.1,465.9 L1586.8,466.2 L1587.4,466.7 L1588.1,467.5 L1588.7,468.2 L1589.4,469.1 L1590.1,470.0 L1590.7,470.9 L1591.4,471.8 L1592.0,472.8 L1592.7,473.7 L1593.4,474.6 L1594.0,475.5 L1594.7,476.5 L1595.3,477.5 L1596.0,478.5 L1596.6,479.5 L1597.3,480.4 L1598.0,481.4 L1598.6,482.6 L1599.3,483.7 L1599.9,484.8 L1600.6,485.9 L1601.3,487.0 L1601.9,488.1 L1602.6,489.5 L1603.2,490.9 L1603.9,492.3 L1604.5,493.7 L1605.2,495.1 L1605.9,496.5 L1607.1,485.0 L1608.3,475.4 L1609.5,467.5 L1610.7,460.0 L1611.9,452.6 L1613.1,446.5 L1614.3,441.4 L1615.5,437.0 L1616.7,433.4 L1617.9,430.4 L1619.1,427.9 L1620.3,425.7 L1621.6,424.0 L1622.8,422.6 L1624.0,421.5 L1625.2,420.6 L1626.4,420.1 L1627.6,419.6 L1628.8,419.3 L1630.0,419.1 L1630.7,419.7 L1631.3,420.3 L1632.0,421.0 L1632.6,421.7 L1633.3,422.5 L1634.0,423.3 L1634.6,424.2 L1635.3,425.1 L1635.9,426.2 L1636.6,427.2 L1637.2,428.4 L1637.9,429.5 L1638.6,430.6 L1639.2,431.7 L1639.9,432.9 L1640.5,434.1 L1641.2,435.4 L1641.9,436.6 L1642.5,437.8 L1643.2,438.9 L1643.8,440.1 L1644.5,441.3 L1645.2,442.4 L1645.8,443.6 L1646.5,444.7 L1647.1,445.9 L1647.8,447.1 L1648.5,448.3 L1649.1,449.5 L1649.8,450.8 L1650.4,452.1 L1651.1,453.3 L1651.7,454.6 L1652.4,455.9 L1653.1,457.2 L1653.7,458.5 L1654.4,459.8 L1655.0,461.0 L1655.7,462.3 L1656.4,463.4 L1657.0,464.5 L1657.7,465.6 L1658.3,466.1 L1659.0,466.5 L1659.7,466.8 L1660.3,467.1 L1661.0,467.3 L1661.6,467.6 L1662.3,467.8 L1663.0,468.1 L1663.6,468.3 L1664.3,469.0 L1664.9,469.9 L1665.6,470.7 L1666.2,471.6 L1666.9,472.5 L1667.6,473.5 L1668.2,474.4 L1668.9,475.4 L1669.5,476.3 L1670.2,477.3 L1670.9,478.2 L1671.5,479.2 L1672.2,480.2 L1672.8,481.1 L1673.5,482.1 L1674.2,483.1 L1674.8,484.1 L1675.5,485.2 L1676.1,486.4 L1676.8,487.5 L1677.4,488.6 L1678.1,489.8 L1678.8,490.9 L1679.4,492.3 L1680.1,493.8 L1680.7,495.2 L1681.4,496.6 L1682.1,498.1 L1682.7,499.5 L1683.9,488.1 L1685.1,478.7 L1686.3,470.9 L1687.5,463.4 L1688.7,456.0 L1689.9,449.8 L1691.1,444.7 L1692.3,440.4 L1693.5,436.8 L1694.7,433.8 L1695.9,431.4 L1697.1,429.3 L1698.3,427.6 L1699.5,426.3 L1700.7,425.3 L1701.9,424.5 L1703.1,424.0 L1704.3,423.6 L1705.5,423.3 L1706.7,423.2 L1707.4,423.8 L1708.0,424.5 L1708.7,425.2 L1709.3,426.0 L1710.0,426.8 L1710.7,427.6 L1711.3,428.6 L1712.0,429.6 L1712.6,430.6 L1713.3,431.7 L1714.0,432.8 L1714.6,433.9 L1715.3,435.1 L1716.0,436.2 L1716.6,437.4 L1717.3,438.5 L1717.9,439.7 L1718.6,440.9 L1719.3,442.0 L1719.9,443.1 L1720.6,444.2 L1721.2,445.2 L1721.9,446.3 L1722.6,447.3 L1723.2,448.4 L1723.9,449.5 L1724.5,450.5 L1725.2,451.7 L1725.9,452.8 L1726.5,453.9 L1727.2,455.1 L1727.9,456.2 L1728.5,457.4 L1729.2,458.6 L1729.8,459.7 L1730.5,460.9 L1731.2,462.1 L1731.8,463.2 L1732.5,464.4 L1733.1,465.5 L1733.8,466.6 L1734.5,467.6 L1735.1,467.9 L1735.8,468.2 L1736.4,468.5 L1737.1,468.7 L1737.8,469.0 L1738.4,469.2 L1739.1,469.5 L1739.8,469.8 L1740.4,470.0 L1741.1,470.8 L1741.7,471.7 L1742.4,472.7 L1743.1,473.6 L1743.7,474.5 L1744.4,475.5 L1745.0,476.4 L1745.7,477.4 L1746.4,478.3 L1747.0,479.3 L1747.7,480.2 L1748.3,481.2 L1749.0,482.2 L1749.7,483.1 L1750.3,484.1 L1751.0,485.0 L1751.6,486.0 L1752.3,487.2 L1753.0,488.3 L1753.6,489.5 L1754.3,490.6 L1755.0,491.7 L1755.6,492.9 L1756.3,494.3 L1756.9,495.8 L1757.6,497.2 L1758.3,498.7 L1758.9,500.1 L1759.6,501.6 L1760.8,490.3 L1762.0,481.0 L1763.2,473.3 L1764.4,466.0 L1765.6,458.6 L1766.8,452.5 L1768.0,447.4 L1769.1,443.2 L1770.3,439.7 L1771.5,436.7 L1772.7,434.3 L1773.9,432.2 L1775.1,430.6 L1776.3,429.3 L1777.5,428.2 L1778.7,427.5 L1779.9,427.0 L1781.1,426.6 L1782.3,426.3 L1783.5,426.2 L1784.2,426.8 L1784.8,427.5 L1785.5,428.2 L1786.1,428.9 L1786.8,429.7 L1787.5,430.5 L1788.1,431.4 L1788.8,432.4 L1789.5,433.5 L1790.1,434.5 L1790.8,435.6 L1791.4,436.7 L1792.1,437.8 L1792.8,438.9 L1793.4,440.0 L1794.1,441.2 L1794.7,442.3 L1795.4,443.5 L1796.1,444.6 L1796.7,445.7 L1797.4,446.7 L1798.1,447.7 L1798.7,448.8 L1799.4,449.8 L1800.0,450.8 L1800.7,451.9 L1801.4,452.9 L1802.0,454.0 L1802.7,455.1 L1803.4,456.2 L1804.0,457.3 L1804.7,458.5 L1805.3,459.6 L1806.0,460.7 L1806.7,461.9 L1807.3,463.0 L1808.0,464.2 L1808.6,465.3 L1809.3,466.5 L1810.0,467.6 L1810.6,468.6 L1811.3,469.6 L1812.0,469.9 L1812.6,470.2 L1813.3,470.4 L1813.9,470.7 L1814.6,470.9 L1815.3,471.2 L1815.9,471.4 L1816.6,471.7 L1817.2,471.9 L1817.9,472.7 L1818.6,473.6 L1819.2,474.5 L1819.9,475.4 L1820.6,476.4 L1821.2,477.3 L1821.9,478.2 L1822.5,479.1 L1823.2,480.1 L1823.9,481.0 L1824.5,481.9 L1825.2,482.9 L1825.9,483.8 L1826.5,484.7 L1827.2,485.7 L1827.8,486.6 L1828.5,487.6 L1829.2,488.7 L1829.8,489.8 L1830.5,490.9 L1831.1,492.1 L1831.8,493.2 L1832.5,494.3 L1833.1,495.7 L1833.8,497.1 L1834.5,498.5 L1835.1,500.0 L1835.8,501.4 L1836.4,502.8 L1837.6,491.8 L1838.8,482.6 L1839.9,475.1 L1841.1,467.9 L1842.3,460.7 L1843.4,454.7 L1844.6,449.7 L1845.8,445.6 L1847.0,442.1 L1848.1,439.2 L1849.3,436.8 L1850.5,434.8 L1851.6,433.2 L1852.8,431.9 L1854.0,430.9 L1855.1,430.2 L1856.3,429.7 L1857.5,429.3 L1858.6,429.0 L1859.8,428.9 L1860.5,429.5 L1861.1,430.2 L1861.8,430.9 L1862.5,431.6 L1863.1,432.4 L1863.8,433.2 L1864.5,434.1 L1865.1,435.1 L1865.8,436.1 L1866.5,437.2 L1867.2,438.3 L1867.8,439.3 L1868.5,440.4 L1869.2,441.5 L1869.8,442.6 L1870.5,443.8 L1871.2,444.9 L1871.8,446.0 L1872.5,447.2 L1873.2,448.2 L1873.8,449.3 L1874.5,450.3 L1875.2,451.3 L1875.8,452.3 L1876.5,453.3 L1877.2,454.4 L1877.9,455.4 L1878.5,456.5 L1879.2,457.6 L1879.9,458.7 L1880.5,459.8 L1881.2,461.0 L1881.9,462.1 L1882.5,463.2 L1883.2,464.4 L1883.9,465.5 L1884.5,466.6 L1885.2,467.8 L1885.9,468.9 L1886.5,470.0 L1887.2,471.0 L1887.9,472.0 L1888.6,472.3 L1889.2,472.6 L1889.9,472.8 L1890.6,473.1 L1891.2,473.3 L1891.9,473.6 L1892.6,473.8 L1893.2,474.1 L1893.9,474.3 L1894.6,475.1 L1895.2,476.0 L1895.9,476.9 L1896.6,477.8 L1897.2,478.7 L1897.9,479.7 L1898.6,480.6 L1899.3,481.5 L1899.9,482.4 L1900.6,483.3 L1901.3,484.3 L1901.9,485.2 L1902.6,486.1 L1903.3,487.1 L1903.9,488.0 L1904.6,488.9 L1905.3,489.9 L1905.9,491.0 L1906.6,492.1 L1907.3,493.2 L1908.0,494.3 L1908.6,495.4 L1909.3,496.5 L1910.0,497.9 L1910.6,499.3 L1911.3,500.8 L1912.0,502.2 L1912.6,503.6 L1913.3,505.0 L1914.5,493.9 L1915.6,484.8 L1916.8,477.2 L1917.9,470.0 L1919.1,462.8 L1920.3,456.8 L1921.4,451.8 L1922.6,447.6 L1923.7,444.1 L1924.9,441.2 L1926.1,438.9 L1927.2,436.8 L1928.4,435.2 L1929.5,433.9 L1930.7,432.9 L1931.9,432.2 L1933.0,431.7 L1934.2,431.3 L1935.3,431.0 L1936.5,430.9 L1937.2,431.5 L1937.8,432.2 L1938.5,432.9 L1939.2,433.6 L1939.9,434.4 L1940.5,435.2 L1941.2,436.1 L1941.9,437.1 L1942.5,438.1 L1943.2,439.2 L1943.9,440.3 L1944.5,441.3 L1945.2,442.4 L1945.9,443.5 L1946.6,444.6 L1947.2,445.8 L1947.9,446.9 L1948.6,448.0 L1949.2,449.2 L1949.9,450.2 L1950.6,451.3 L1951.3,452.3 L1951.9,453.3 L1952.6,454.3 L1953.3,455.3 L1953.9,456.4 L1954.6,457.4 L1955.3,458.5 L1956.0,459.6 L1956.6,460.7 L1957.3,461.8 L1958.0,463.0 L1958.6,464.1 L1959.3,465.2 L1960.0,466.4"/>
<path class="crv" stroke="#f14040" d="M249.5,637.0 L262.0,660.0 L274.0,684.0 L281.0,691.0 L290.0,692.0 L300.2,691.0 L299.2,691.0 L300.2,638.6 L301.2,605.1 L302.2,579.0 L303.1,555.7 L304.1,532.9 L305.1,512.8 L306.1,500.5 L307.0,484.9 L308.0,466.7 L309.0,454.5 L309.9,444.0 L310.9,431.9 L311.9,421.3 L312.9,412.6 L313.8,405.2 L314.8,399.5 L315.8,395.1 L316.8,391.9 L317.7,390.0 L318.7,388.9 L319.4,389.4 L320.1,390.2 L320.9,391.2 L321.6,392.3 L322.3,393.7 L323.0,395.1 L323.7,396.7 L324.4,398.6 L325.2,400.9 L325.9,403.6 L326.6,406.4 L327.3,409.3 L328.0,412.3 L328.7,415.4 L329.5,418.6 L330.2,422.1 L330.9,425.8 L331.6,429.7 L332.3,433.8 L333.1,438.2 L333.8,442.9 L334.5,447.8 L335.2,452.8 L335.9,457.8 L336.6,462.9 L337.4,468.1 L338.1,473.4 L338.8,478.7 L339.5,484.0 L340.2,489.5 L340.9,495.0 L341.7,500.4 L342.4,505.8 L343.1,510.9 L343.8,515.7 L344.5,520.4 L345.2,525.1 L346.0,529.8 L346.7,534.5 L347.4,539.1 L348.1,543.8 L348.8,548.4 L349.6,553.1 L350.3,556.8 L351.0,557.6 L351.7,558.3 L352.4,559.1 L353.1,559.8 L353.9,560.6 L354.6,561.4 L355.3,562.1 L356.0,562.9 L356.7,563.7 L357.4,564.4 L358.2,565.2 L358.9,565.9 L359.6,566.7 L360.3,567.5 L361.0,568.2 L361.8,569.0 L362.5,569.7 L363.2,570.5 L363.9,571.2 L364.6,571.8 L365.3,572.5 L366.1,573.2 L366.8,573.9 L367.5,574.6 L368.2,575.3 L368.9,576.0 L369.6,576.6 L370.4,577.3 L371.1,578.0 L371.8,578.7 L372.5,579.4 L373.2,580.1 L373.9,580.7 L374.7,581.4 L375.4,582.1 L376.1,582.8 L377.1,541.1 L378.0,514.4 L379.0,493.6 L380.0,475.0 L381.0,456.9 L381.9,440.8 L382.9,431.1 L383.9,418.7 L384.8,404.2 L385.8,394.5 L386.8,386.1 L387.7,376.5 L388.7,368.0 L389.7,361.1 L390.6,355.2 L391.6,350.6 L392.6,347.2 L393.6,344.6 L394.5,343.1 L395.5,342.2 L396.2,342.5 L396.9,343.1 L397.7,344.0 L398.4,345.2 L399.1,346.5 L399.8,347.9 L400.5,349.4 L401.2,351.2 L402.0,353.4 L402.7,356.1 L403.4,359.2 L404.1,362.6 L404.8,366.1 L405.6,369.7 L406.3,373.2 L407.0,376.8 L407.7,380.6 L408.4,384.7 L409.1,388.9 L409.9,393.4 L410.6,398.3 L411.3,403.5 L412.0,408.8 L412.7,414.0 L413.5,419.0 L414.2,424.0 L414.9,429.0 L415.6,434.0 L416.3,439.0 L417.0,444.1 L417.8,449.2 L418.5,454.3 L419.2,459.3 L419.9,464.1 L420.6,468.6 L421.4,473.0 L422.1,477.2 L422.8,481.4 L423.5,485.6 L424.2,488.4 L424.9,491.0 L425.7,493.6 L426.4,496.2 L427.1,498.7 L427.8,499.8 L428.5,500.7 L429.3,501.6 L430.0,502.4 L430.7,503.3 L431.4,504.2 L432.1,505.1 L432.8,506.0 L433.6,506.9 L434.3,507.8 L435.0,508.7 L435.7,509.6 L436.4,510.5 L437.2,511.4 L437.9,512.3 L438.6,513.2 L439.3,514.1 L440.0,514.9 L440.7,515.8 L441.5,516.7 L442.2,517.5 L442.9,518.4 L443.6,519.3 L444.3,520.2 L445.1,521.0 L445.8,521.9 L446.5,522.8 L447.2,523.6 L447.9,524.5 L448.7,525.4 L449.4,526.2 L450.1,527.1 L450.8,528.0 L451.5,528.9 L452.2,529.7 L453.0,530.6 L453.9,493.8 L454.9,470.4 L455.9,452.0 L456.9,435.7 L457.8,419.7 L458.8,405.6 L459.8,397.0 L460.8,386.0 L461.8,373.3 L462.7,364.7 L463.7,357.4 L464.7,348.9 L465.7,341.4 L466.6,335.3 L467.6,330.1 L468.6,326.1 L469.6,323.1 L470.5,320.8 L471.5,319.5 L472.5,318.7 L473.2,319.1 L473.9,319.7 L474.6,320.6 L475.4,321.7 L476.1,322.9 L476.8,324.2 L477.5,325.5 L478.2,327.1 L478.9,329.1 L479.7,331.4 L480.4,334.0 L481.1,336.8 L481.8,339.7 L482.5,342.7 L483.2,345.7 L484.0,348.8 L484.7,352.1 L485.4,355.6 L486.1,359.2 L486.8,363.0 L487.5,367.1 L488.3,371.3 L489.0,375.7 L489.7,380.0 L490.4,384.4 L491.1,388.8 L491.8,393.3 L492.6,397.9 L493.3,402.4 L494.0,406.9 L494.7,411.3 L495.4,415.6 L496.1,420.0 L496.9,424.3 L497.6,428.6 L498.3,433.2 L499.0,437.7 L499.7,442.2 L500.4,446.6 L501.2,450.0 L501.9,453.3 L502.6,456.5 L503.3,459.6 L504.0,462.5 L504.7,463.6 L505.5,464.6 L506.2,465.6 L506.9,466.6 L507.6,467.6 L508.3,468.7 L509.0,469.7 L509.8,470.7 L510.5,471.7 L511.2,472.7 L511.9,473.7 L512.6,474.8 L513.3,475.8 L514.1,476.8 L514.8,477.8 L515.5,478.8 L516.2,479.9 L516.9,480.8 L517.6,481.7 L518.4,482.6 L519.1,483.5 L519.8,484.4 L520.5,485.3 L521.2,486.3 L521.9,487.2 L522.7,488.1 L523.4,489.0 L524.1,489.9 L524.8,490.8 L525.5,491.7 L526.2,492.6 L527.0,493.6 L527.7,494.5 L528.4,495.4 L529.1,496.3 L529.8,497.2 L530.8,464.2 L531.9,443.1 L532.9,426.7 L533.9,412.0 L534.9,397.6 L535.9,384.9 L537.0,377.2 L538.0,367.4 L539.0,355.9 L540.0,348.2 L541.0,341.6 L542.0,334.0 L543.1,327.3 L544.1,321.8 L545.1,317.2 L546.1,313.6 L547.1,310.8 L548.2,308.8 L549.2,307.6 L550.2,306.9 L550.9,307.4 L551.6,308.0 L552.3,308.9 L553.0,309.9 L553.7,311.0 L554.4,312.2 L555.1,313.5 L555.8,314.9 L556.6,316.6 L557.3,318.6 L558.0,320.8 L558.7,323.1 L559.4,325.5 L560.1,328.0 L560.8,330.6 L561.5,333.3 L562.2,336.1 L562.9,339.1 L563.6,342.2 L564.3,345.5 L565.0,348.8 L565.7,352.3 L566.4,355.8 L567.1,359.5 L567.9,363.2 L568.6,367.2 L569.3,371.3 L570.0,375.5 L570.7,379.6 L571.4,383.6 L572.1,387.4 L572.8,391.2 L573.5,395.0 L574.2,398.9 L574.9,403.1 L575.6,407.9 L576.3,412.8 L577.0,417.6 L577.7,422.1 L578.4,426.2 L579.1,430.2 L579.9,434.0 L580.6,437.5 L581.3,440.7 L582.0,441.9 L582.7,443.0 L583.4,444.2 L584.1,445.3 L584.8,446.5 L585.5,447.6 L586.2,448.8 L586.9,449.9 L587.6,451.1 L588.3,452.2 L589.0,453.4 L589.7,454.5 L590.4,455.7 L591.1,456.8 L591.9,457.9 L592.6,459.1 L593.3,460.2 L594.0,461.2 L594.7,462.2 L595.4,463.1 L596.1,464.1 L596.8,465.0 L597.5,466.0 L598.2,467.0 L598.9,467.9 L599.6,468.9 L600.3,469.8 L601.0,470.8 L601.7,471.8 L602.4,472.7 L603.2,473.7 L603.9,474.7 L604.6,475.6 L605.3,476.6 L606.0,477.5 L606.7,478.5 L607.6,442.6 L608.6,419.7 L609.6,401.8 L610.5,385.8 L611.5,370.2 L612.5,356.4 L613.4,348.0 L614.4,337.3 L615.4,324.8 L616.3,316.5 L617.3,309.3 L618.3,301.0 L619.2,293.7 L620.2,287.8 L621.2,282.7 L622.1,278.7 L623.1,275.8 L624.1,273.6 L625.0,272.2 L626.0,271.5 L626.7,272.1 L627.4,272.8 L628.2,273.7 L628.9,274.7 L629.6,275.8 L630.3,277.0 L631.0,278.2 L631.8,279.5 L632.5,281.1 L633.2,282.9 L633.9,284.8 L634.6,286.8 L635.4,288.8 L636.1,291.0 L636.8,293.4 L637.5,295.8 L638.2,298.3 L638.9,301.0 L639.7,303.8 L640.4,306.6 L641.1,309.5 L641.8,312.4 L642.5,315.4 L643.3,318.5 L644.0,321.9 L644.7,325.7 L645.4,329.7 L646.1,333.7 L646.9,337.7 L647.6,341.5 L648.3,344.9 L649.0,348.2 L649.7,351.7 L650.5,355.5 L651.2,359.8 L651.9,365.2 L652.6,370.6 L653.3,376.0 L654.1,381.0 L654.8,385.9 L655.5,390.9 L656.2,395.5 L656.9,399.7 L657.6,403.3 L658.4,404.7 L659.1,406.0 L659.8,407.4 L660.5,408.7 L661.2,410.0 L662.0,411.4 L662.7,412.7 L663.4,414.0 L664.1,415.4 L664.8,416.7 L665.6,418.1 L666.3,419.4 L667.0,420.7 L667.7,422.1 L668.4,423.4 L669.2,424.7 L669.9,426.1 L670.6,427.1 L671.3,428.2 L672.0,429.3 L672.8,430.3 L673.5,431.4 L674.2,432.5 L674.9,433.5 L675.6,434.6 L676.3,435.7 L677.1,436.7 L677.8,437.8 L678.5,438.8 L679.2,439.9 L679.9,441.0 L680.7,442.0 L681.4,443.1 L682.1,444.2 L682.8,445.2 L683.5,446.3 L684.6,418.7 L685.6,400.6 L686.6,386.3 L687.6,373.5 L688.6,360.9 L689.6,349.1 L690.6,340.5 L691.6,330.6 L692.7,319.8 L693.7,312.1 L694.7,305.4 L695.7,298.2 L696.7,292.0 L697.7,287.0 L698.7,282.6 L699.7,279.2 L700.8,276.7 L701.8,274.8 L702.8,273.6 L703.8,273.0 L704.5,273.6 L705.2,274.3 L705.9,275.1 L706.6,276.0 L707.3,277.1 L708.0,278.2 L708.8,279.4 L709.5,280.7 L710.2,282.2 L710.9,283.9 L711.6,285.7 L712.3,287.7 L713.0,289.6 L713.7,291.7 L714.4,294.0 L715.1,296.3 L715.8,298.7 L716.5,301.2 L717.2,303.9 L717.9,306.6 L718.7,309.3 L719.4,312.0 L720.1,314.8 L720.8,317.8 L721.5,320.9 L722.2,324.3 L722.9,327.9 L723.6,331.6 L724.3,335.2 L725.0,338.6 L725.7,341.8 L726.4,344.8 L727.1,348.1 L727.9,351.5 L728.6,355.3 L729.3,360.0 L730.0,364.7 L730.7,369.4 L731.4,373.8 L732.1,378.1 L732.8,382.5 L733.5,386.4 L734.2,389.8 L734.9,392.8 L735.6,393.9 L736.3,395.1 L737.1,396.2 L737.8,397.4 L738.5,398.5 L739.2,399.7 L739.9,400.8 L740.6,402.0 L741.3,403.1 L742.0,404.2 L742.7,405.4 L743.4,406.5 L744.1,407.7 L744.8,408.9 L745.5,410.1 L746.2,411.2 L747.0,412.4 L747.7,413.4 L748.4,414.3 L749.1,415.3 L749.8,416.2 L750.5,417.2 L751.2,418.2 L751.9,419.2 L752.6,420.3 L753.3,421.3 L754.0,422.3 L754.7,423.3 L755.4,424.3 L756.2,425.4 L756.9,426.4 L757.6,427.4 L758.3,428.4 L759.0,429.5 L759.7,430.5 L760.4,431.5 L761.4,409.9 L762.4,395.3 L763.4,383.6 L764.4,373.3 L765.5,362.9 L766.5,352.6 L767.5,343.7 L768.5,334.5 L769.5,324.8 L770.5,317.6 L771.5,311.4 L772.5,305.0 L773.5,299.6 L774.5,295.2 L775.5,291.4 L776.6,288.4 L777.6,286.1 L778.6,284.5 L779.6,283.4 L780.6,282.9 L781.3,283.4 L782.0,284.1 L782.7,284.8 L783.4,285.7 L784.1,286.7 L784.8,287.8 L785.6,288.9 L786.3,290.1 L787.0,291.6 L787.7,293.2 L788.4,294.9 L789.1,296.7 L789.8,298.5 L790.5,300.5 L791.2,302.6 L791.9,304.8 L792.6,307.1 L793.3,309.4 L794.1,311.9 L794.8,314.4 L795.5,316.9 L796.2,319.5 L796.9,322.1 L797.6,324.7 L798.3,327.6 L799.0,330.6 L799.7,333.9 L800.4,337.1 L801.1,340.3 L801.8,343.4 L802.6,346.2 L803.3,349.0 L804.0,351.9 L804.7,354.9 L805.4,358.3 L806.1,362.3 L806.8,366.4 L807.5,370.4 L808.2,374.1 L808.9,377.9 L809.6,381.6 L810.3,385.0 L811.1,387.6 L811.8,390.0 L812.5,391.0 L813.2,391.9 L813.9,392.9 L814.6,393.8 L815.3,394.8 L816.0,395.8 L816.7,396.7 L817.4,397.7 L818.1,398.6 L818.8,399.6 L819.6,400.6 L820.3,401.5 L821.0,402.6 L821.7,403.6 L822.4,404.6 L823.1,405.6 L823.8,406.6 L824.5,407.4 L825.2,408.3 L825.9,409.1 L826.6,410.0 L827.3,410.8 L828.1,411.8 L828.8,412.8 L829.5,413.7 L830.2,414.7 L830.9,415.6 L831.6,416.6 L832.3,417.6 L833.0,418.5 L833.7,419.5 L834.4,420.5 L835.1,421.4 L835.8,422.4 L836.6,423.3 L837.3,424.3 L838.3,407.3 L839.4,395.5 L840.4,385.9 L841.5,377.4 L842.5,368.7 L843.6,359.6 L844.7,350.7 L845.7,342.0 L846.8,333.3 L847.8,326.6 L848.9,320.7 L849.9,315.0 L851.0,310.2 L852.1,306.3 L853.1,303.0 L854.2,300.3 L855.2,298.3 L856.3,296.8 L857.3,295.9 L858.4,295.4 L859.1,295.9 L859.8,296.5 L860.5,297.3 L861.2,298.1 L861.9,299.1 L862.6,300.1 L863.3,301.2 L864.0,302.4 L864.7,303.9 L865.4,305.4 L866.1,307.1 L866.8,308.9 L867.5,310.7 L868.2,312.7 L868.8,314.7 L869.5,316.9 L870.2,319.1 L870.9,321.4 L871.6,323.7 L872.3,326.2 L873.0,328.6 L873.7,331.1 L874.4,333.5 L875.1,336.1 L875.8,338.8 L876.5,341.7 L877.2,344.6 L877.9,347.6 L878.6,350.6 L879.3,353.5 L880.0,356.2 L880.7,358.8 L881.4,361.5 L882.1,364.4 L882.8,367.4 L883.5,371.0 L884.2,374.6 L884.9,378.2 L885.6,381.6 L886.3,384.9 L887.0,388.3 L887.7,391.2 L888.3,393.3 L889.0,395.3 L889.7,396.1 L890.4,397.0 L891.1,397.8 L891.8,398.6 L892.5,399.5 L893.2,400.3 L893.9,401.1 L894.6,402.0 L895.3,402.8 L896.0,403.7 L896.7,404.5 L897.4,405.4 L898.1,406.3 L898.8,407.2 L899.5,408.1 L900.2,409.0 L900.9,409.9 L901.6,410.7 L902.3,411.4 L903.0,412.2 L903.7,413.0 L904.4,413.8 L905.1,414.8 L905.8,415.7 L906.5,416.6 L907.2,417.6 L907.9,418.5 L908.5,419.5 L909.2,420.4 L909.9,421.4 L910.6,422.3 L911.3,423.2 L912.0,424.2 L912.7,425.1 L913.4,426.1 L914.1,427.0 L915.2,412.4 L916.3,401.8 L917.4,393.1 L918.5,385.3 L919.6,377.3 L920.7,368.3 L921.8,358.6 L922.9,349.6 L924.0,340.8 L925.1,333.9 L926.2,327.7 L927.3,322.1 L928.4,317.4 L929.5,313.6 L930.6,310.3 L931.7,307.6 L932.8,305.6 L933.9,304.2 L935.0,303.2 L936.1,302.8 L936.8,303.3 L937.5,303.9 L938.2,304.6 L938.8,305.5 L939.5,306.4 L940.2,307.4 L940.9,308.5 L941.6,309.7 L942.3,311.1 L943.0,312.6 L943.6,314.3 L944.3,316.0 L945.0,317.8 L945.7,319.7 L946.4,321.7 L947.1,323.8 L947.8,326.0 L948.4,328.2 L949.1,330.5 L949.8,332.9 L950.5,335.2 L951.2,337.6 L951.9,340.0 L952.6,342.5 L953.2,345.0 L953.9,347.7 L954.6,350.5 L955.3,353.3 L956.0,356.0 L956.7,358.7 L957.4,361.3 L958.1,363.8 L958.7,366.4 L959.4,369.0 L960.1,371.8 L960.8,375.0 L961.5,378.2 L962.2,381.4 L962.9,384.4 L963.5,387.5 L964.2,390.5 L964.9,393.0 L965.6,394.7 L966.3,396.3 L967.0,397.0 L967.7,397.7 L968.3,398.5 L969.0,399.2 L969.7,399.9 L970.4,400.6 L971.1,401.4 L971.8,402.1 L972.5,402.8 L973.1,403.6 L973.8,404.3 L974.5,405.1 L975.2,405.9 L975.9,406.7 L976.6,407.5 L977.3,408.3 L977.9,409.1 L978.6,409.9 L979.3,410.6 L980.0,411.3 L980.7,412.0 L981.4,412.8 L982.1,413.7 L982.7,414.6 L983.4,415.6 L984.1,416.5 L984.8,417.4 L985.5,418.3 L986.2,419.2 L986.9,420.2 L987.6,421.1 L988.2,422.0 L988.9,422.9 L989.6,423.9 L990.3,424.8 L991.0,425.7 L992.1,413.6 L993.1,404.4 L994.2,396.7 L995.3,389.8 L996.4,382.6 L997.4,374.0 L998.5,363.8 L999.6,354.7 L1000.7,346.2 L1001.7,339.3 L1002.8,333.0 L1003.9,327.6 L1005.0,323.1 L1006.0,319.5 L1007.1,316.4 L1008.2,313.7 L1009.3,311.8 L1010.3,310.5 L1011.4,309.5 L1012.5,309.1 L1013.2,309.6 L1013.9,310.2 L1014.6,310.9 L1015.3,311.7 L1016.0,312.6 L1016.7,313.6 L1017.3,314.7 L1018.0,315.9 L1018.7,317.3 L1019.4,318.9 L1020.1,320.5 L1020.8,322.2 L1021.5,324.0 L1022.2,325.9 L1022.9,327.9 L1023.6,330.0 L1024.3,332.1 L1025.0,334.3 L1025.6,336.5 L1026.3,338.8 L1027.0,341.2 L1027.7,343.5 L1028.4,345.9 L1029.1,348.2 L1029.8,350.7 L1030.5,353.2 L1031.2,355.9 L1031.9,358.5 L1032.6,361.1 L1033.3,363.6 L1033.9,366.1 L1034.6,368.5 L1035.3,371.0 L1036.0,373.5 L1036.7,376.1 L1037.4,379.0 L1038.1,381.9 L1038.8,384.8 L1039.5,387.5 L1040.2,390.3 L1040.9,393.1 L1041.6,395.3 L1042.2,396.6 L1042.9,397.8 L1043.6,398.5 L1044.3,399.1 L1045.0,399.7 L1045.7,400.4 L1046.4,401.0 L1047.1,401.7 L1047.8,402.3 L1048.5,402.9 L1049.2,403.6 L1049.9,404.2 L1050.5,404.9 L1051.2,405.6 L1051.9,406.3 L1052.6,407.0 L1053.3,407.8 L1054.0,408.5 L1054.7,409.3 L1055.4,409.9 L1056.1,410.6 L1056.8,411.3 L1057.5,412.0 L1058.2,412.7 L1058.8,413.6 L1059.5,414.5 L1060.2,415.4 L1060.9,416.4 L1061.6,417.3 L1062.3,418.2 L1063.0,419.1 L1063.7,420.0 L1064.4,420.9 L1065.1,421.8 L1065.8,422.8 L1066.5,423.7 L1067.1,424.6 L1067.8,425.5 L1068.9,415.5 L1070.0,407.4 L1071.1,400.5 L1072.2,394.3 L1073.3,387.8 L1074.4,379.4 L1075.5,368.6 L1076.6,359.3 L1077.7,350.9 L1078.8,343.8 L1079.9,337.5 L1081.0,332.1 L1082.0,327.8 L1083.1,324.3 L1084.2,321.2 L1085.3,318.6 L1086.4,316.7 L1087.5,315.4 L1088.6,314.5 L1089.7,314.1 L1090.4,314.5 L1091.1,315.1 L1091.8,315.8 L1092.5,316.6 L1093.1,317.5 L1093.8,318.5 L1094.5,319.5 L1095.2,320.7 L1095.9,322.0 L1096.6,323.6 L1097.3,325.2 L1098.0,326.8 L1098.6,328.5 L1099.3,330.4 L1100.0,332.3 L1100.7,334.3 L1101.4,336.4 L1102.1,338.5 L1102.8,340.7 L1103.5,342.9 L1104.1,345.1 L1104.8,347.4 L1105.5,349.6 L1106.2,351.9 L1106.9,354.2 L1107.6,356.6 L1108.3,359.0 L1109.0,361.4 L1109.6,363.8 L1110.3,366.2 L1111.0,368.6 L1111.7,370.8 L1112.4,373.1 L1113.1,375.5 L1113.8,377.8 L1114.5,380.4 L1115.1,382.9 L1115.8,385.5 L1116.5,388.0 L1117.2,390.4 L1117.9,392.9 L1118.6,394.8 L1119.3,395.8 L1120.0,396.7 L1120.6,397.2 L1121.3,397.8 L1122.0,398.3 L1122.7,398.9 L1123.4,399.4 L1124.1,400.0 L1124.8,400.5 L1125.5,401.0 L1126.1,401.6 L1126.8,402.1 L1127.5,402.7 L1128.2,403.3 L1128.9,404.0 L1129.6,404.6 L1130.3,405.3 L1131.0,405.9 L1131.6,406.6 L1132.3,407.2 L1133.0,407.8 L1133.7,408.5 L1134.4,409.1 L1135.1,409.8 L1135.8,410.7 L1136.5,411.5 L1137.1,412.4 L1137.8,413.3 L1138.5,414.2 L1139.2,415.1 L1139.9,416.0 L1140.6,416.9 L1141.3,417.8 L1142.0,418.6 L1142.6,419.5 L1143.3,420.4 L1144.0,421.3 L1144.7,422.2 L1145.7,414.3 L1146.8,407.4 L1147.8,401.3 L1148.9,396.0 L1149.9,390.1 L1150.9,382.2 L1152.0,371.0 L1153.0,361.8 L1154.1,353.7 L1155.1,346.7 L1156.1,340.4 L1157.2,335.1 L1158.2,331.1 L1159.3,327.7 L1160.3,324.9 L1161.3,322.3 L1162.4,320.5 L1163.4,319.3 L1164.5,318.4 L1165.5,318.0 L1166.2,318.4 L1166.9,319.0 L1167.6,319.7 L1168.3,320.5 L1169.0,321.4 L1169.7,322.4 L1170.4,323.4 L1171.1,324.6 L1171.8,326.0 L1172.5,327.6 L1173.2,329.2 L1173.9,330.9 L1174.6,332.6 L1175.3,334.5 L1176.0,336.4 L1176.7,338.4 L1177.4,340.5 L1178.1,342.6 L1178.8,344.8 L1179.5,347.0 L1180.2,349.3 L1180.9,351.5 L1181.6,353.8 L1182.3,356.0 L1183.0,358.3 L1183.7,360.6 L1184.4,362.9 L1185.1,365.3 L1185.8,367.6 L1186.5,369.9 L1187.2,372.2 L1187.9,374.5 L1188.6,376.7 L1189.3,378.9 L1190.0,381.2 L1190.7,383.5 L1191.4,385.9 L1192.1,388.2 L1192.8,390.5 L1193.5,392.8 L1194.2,395.1 L1194.9,396.8 L1195.6,397.5 L1196.3,398.1 L1197.0,398.6 L1197.7,399.1 L1198.4,399.6 L1199.1,400.1 L1199.8,400.6 L1200.5,401.0 L1201.2,401.5 L1201.9,402.0 L1202.6,402.5 L1203.3,403.0 L1204.0,403.5 L1204.7,404.0 L1205.4,404.6 L1206.1,405.3 L1206.8,405.9 L1207.5,406.5 L1208.2,407.1 L1208.9,407.7 L1209.6,408.3 L1210.3,408.9 L1211.0,409.5 L1211.7,410.1 L1212.5,411.0 L1213.2,411.9 L1213.9,412.8 L1214.6,413.7 L1215.3,414.6 L1216.0,415.5 L1216.7,416.4 L1217.4,417.3 L1218.1,418.2 L1218.8,419.1 L1219.5,420.0 L1220.2,420.9 L1220.9,421.8 L1221.6,422.7 L1222.6,416.4 L1223.6,410.3 L1224.7,404.8 L1225.7,399.9 L1226.7,394.5 L1227.8,386.6 L1228.8,374.7 L1229.9,365.2 L1230.9,357.0 L1231.9,349.8 L1233.0,343.2 L1234.0,338.0 L1235.0,334.0 L1236.1,330.6 L1237.1,327.8 L1238.2,325.2 L1239.2,323.4 L1240.2,322.2 L1241.3,321.3 L1242.3,320.9 L1243.0,321.3 L1243.7,321.9 L1244.4,322.6 L1245.1,323.5 L1245.8,324.4 L1246.5,325.3 L1247.2,326.3 L1247.9,327.6 L1248.6,329.0 L1249.3,330.6 L1250.0,332.2 L1250.7,333.9 L1251.4,335.6 L1252.1,337.5 L1252.8,339.5 L1253.5,341.6 L1254.2,343.7 L1254.9,345.8 L1255.6,347.9 L1256.3,350.2 L1257.0,352.4 L1257.7,354.7 L1258.4,356.9 L1259.1,359.2 L1259.8,361.4 L1260.5,363.7 L1261.2,365.9 L1261.9,368.2 L1262.6,370.4 L1263.3,372.7 L1264.0,374.9 L1264.7,377.1 L1265.4,379.4 L1266.2,381.5 L1266.9,383.7 L1267.6,385.8 L1268.3,388.0 L1269.0,390.1 L1269.7,392.2 L1270.4,394.4 L1271.1,396.5 L1271.8,398.0 L1272.5,398.4 L1273.2,398.8 L1273.9,399.3 L1274.6,399.7 L1275.3,400.1 L1276.0,400.5 L1276.7,401.0 L1277.4,401.4 L1278.1,401.8 L1278.8,402.2 L1279.5,402.7 L1280.2,403.1 L1280.9,403.5 L1281.6,404.0 L1282.3,404.6 L1283.0,405.2 L1283.7,405.7 L1284.4,406.3 L1285.1,406.9 L1285.8,407.4 L1286.5,408.0 L1287.2,408.6 L1287.9,409.2 L1288.6,409.8 L1289.3,410.7 L1290.0,411.6 L1290.7,412.5 L1291.4,413.4 L1292.1,414.3 L1292.8,415.3 L1293.5,416.2 L1294.2,417.1 L1294.9,418.0 L1295.6,418.9 L1296.3,419.8 L1297.0,420.7 L1297.7,421.6 L1298.4,422.5 L1299.5,416.8 L1300.5,411.0 L1301.5,405.6 L1302.6,400.6 L1303.6,394.8 L1304.6,387.0 L1305.7,376.1 L1306.7,367.1 L1307.7,359.2 L1308.8,352.2 L1309.8,345.9 L1310.8,340.8 L1311.9,336.8 L1312.9,333.5 L1313.9,330.6 L1315.0,328.1 L1316.0,326.4 L1317.0,325.2 L1318.1,324.3 L1319.1,323.9 L1319.8,324.3 L1320.5,324.9 L1321.2,325.6 L1321.9,326.4 L1322.6,327.3 L1323.3,328.2 L1324.0,329.2 L1324.7,330.4 L1325.4,331.7 L1326.1,333.2 L1326.8,334.8 L1327.5,336.5 L1328.2,338.1 L1328.9,339.9 L1329.6,341.8 L1330.3,343.8 L1331.0,345.8 L1331.7,347.8 L1332.4,349.9 L1333.1,352.0 L1333.8,354.2 L1334.5,356.3 L1335.3,358.5 L1336.0,360.6 L1336.7,362.7 L1337.4,364.9 L1338.1,367.0 L1338.8,369.1 L1339.5,371.2 L1340.2,373.4 L1340.9,375.6 L1341.6,377.7 L1342.3,379.9 L1343.0,382.0 L1343.7,384.0 L1344.4,386.1 L1345.1,388.1 L1345.8,390.2 L1346.5,392.2 L1347.2,394.2 L1347.9,396.3 L1348.6,397.8 L1349.3,398.4 L1350.0,399.0 L1350.7,399.4 L1351.4,399.8 L1352.1,400.2 L1352.8,400.6 L1353.5,401.1 L1354.2,401.5 L1354.9,401.9 L1355.6,402.3 L1356.3,402.7 L1357.0,403.1 L1357.7,403.5 L1358.4,404.0 L1359.1,404.5 L1359.8,405.1 L1360.5,405.6 L1361.2,406.2 L1361.9,406.7 L1362.6,407.2 L1363.3,407.8 L1364.0,408.3 L1364.7,408.8 L1365.4,409.5 L1366.2,410.3 L1366.9,411.2 L1367.6,412.0 L1368.3,412.9 L1369.0,413.8 L1369.7,414.7 L1370.4,415.6 L1371.1,416.5 L1371.8,417.4 L1372.5,418.3 L1373.2,419.1 L1373.9,420.0 L1374.6,420.9 L1375.3,421.8 L1376.3,416.6 L1377.3,411.3 L1378.4,406.0 L1379.4,400.8 L1380.4,394.7 L1381.5,387.2 L1382.5,377.3 L1383.5,368.8 L1384.6,361.2 L1385.6,354.4 L1386.6,348.4 L1387.7,343.5 L1388.7,339.6 L1389.7,336.2 L1390.7,333.5 L1391.8,331.1 L1392.8,329.4 L1393.8,328.2 L1394.9,327.3 L1395.9,326.9 L1396.6,327.3 L1397.3,327.9 L1398.0,328.6 L1398.7,329.3 L1399.4,330.2 L1400.1,331.1 L1400.8,332.1 L1401.5,333.2 L1402.2,334.6 L1402.9,336.0 L1403.6,337.6 L1404.3,339.2 L1405.0,340.8 L1405.7,342.6 L1406.4,344.4 L1407.1,346.4 L1407.9,348.3 L1408.6,350.3 L1409.3,352.3 L1410.0,354.3 L1410.7,356.4 L1411.4,358.5 L1412.1,360.5 L1412.8,362.6 L1413.5,364.6 L1414.2,366.6 L1414.9,368.7 L1415.6,370.7 L1416.3,372.8 L1417.0,374.9 L1417.7,377.0 L1418.4,379.1 L1419.1,381.2 L1419.8,383.3 L1420.5,385.3 L1421.2,387.3 L1421.9,389.2 L1422.6,391.2 L1423.3,393.2 L1424.0,395.1 L1424.7,397.1 L1425.4,398.6 L1426.1,399.5 L1426.8,400.2 L1427.5,400.6 L1428.2,401.0 L1428.9,401.4 L1429.6,401.8 L1430.3,402.2 L1431.1,402.6 L1431.8,403.1 L1432.5,403.5 L1433.2,403.9 L1433.9,404.3 L1434.6,404.7 L1435.3,405.1 L1436.0,405.6 L1436.7,406.1 L1437.4,406.7 L1438.1,407.2 L1438.8,407.7 L1439.5,408.2 L1440.2,408.7 L1440.9,409.2 L1441.6,409.8 L1442.3,410.3 L1443.0,411.1 L1443.7,411.9 L1444.4,412.8 L1445.1,413.7 L1445.8,414.6 L1446.5,415.5 L1447.2,416.3 L1447.9,417.2 L1448.6,418.1 L1449.3,419.0 L1450.0,419.9 L1450.7,420.7 L1451.4,421.6 L1452.1,422.5 L1453.1,417.7 L1454.1,412.5 L1455.1,407.2 L1456.2,401.7 L1457.2,395.2 L1458.2,387.7 L1459.2,378.3 L1460.2,370.2 L1461.2,362.5 L1462.2,355.8 L1463.2,349.9 L1464.2,345.0 L1465.2,341.0 L1466.2,337.6 L1467.2,334.8 L1468.2,332.4 L1469.2,330.7 L1470.2,329.5 L1471.2,328.6 L1472.2,328.2 L1472.9,328.6 L1473.6,329.2 L1474.3,329.9 L1475.0,330.6 L1475.8,331.5 L1476.5,332.4 L1477.2,333.4 L1477.9,334.5 L1478.6,335.8 L1479.3,337.2 L1480.0,338.8 L1480.7,340.3 L1481.4,342.0 L1482.1,343.7 L1482.9,345.5 L1483.6,347.4 L1484.3,349.3 L1485.0,351.3 L1485.7,353.2 L1486.4,355.2 L1487.1,357.2 L1487.8,359.2 L1488.5,361.2 L1489.2,363.2 L1490.0,365.2 L1490.7,367.2 L1491.4,369.1 L1492.1,371.1 L1492.8,373.1 L1493.5,375.2 L1494.2,377.3 L1494.9,379.4 L1495.6,381.5 L1496.3,383.5 L1497.0,385.5 L1497.8,387.4 L1498.5,389.3 L1499.2,391.2 L1499.9,393.2 L1500.6,395.1 L1501.3,397.0 L1502.0,398.6 L1502.7,399.7 L1503.4,400.5 L1504.2,400.9 L1504.9,401.3 L1505.6,401.7 L1506.3,402.1 L1507.0,402.5 L1507.7,402.9 L1508.4,403.3 L1509.1,403.7 L1509.8,404.1 L1510.5,404.5 L1511.2,404.9 L1512.0,405.4 L1512.7,405.8 L1513.4,406.3 L1514.1,406.8 L1514.8,407.3 L1515.5,407.8 L1516.2,408.3 L1516.9,408.8 L1517.6,409.3 L1518.3,409.8 L1519.1,410.4 L1519.8,411.1 L1520.5,411.9 L1521.2,412.8 L1521.9,413.7 L1522.6,414.6 L1523.3,415.5 L1524.0,416.3 L1524.7,417.2 L1525.5,418.1 L1526.2,419.0 L1526.9,419.9 L1527.6,420.7 L1528.3,421.6 L1529.0,422.5 L1530.0,418.2 L1531.0,413.3 L1532.0,408.1 L1533.0,402.5 L1534.0,395.7 L1534.9,388.3 L1535.9,379.8 L1536.9,372.1 L1537.9,364.7 L1538.9,358.2 L1539.9,352.5 L1540.9,347.8 L1541.9,343.9 L1542.9,340.5 L1543.8,337.7 L1544.8,335.4 L1545.8,333.7 L1546.8,332.5 L1547.8,331.6 L1548.8,331.2 L1549.5,331.6 L1550.2,332.2 L1550.9,332.8 L1551.7,333.6 L1552.4,334.4 L1553.1,335.3 L1553.8,336.2 L1554.5,337.3 L1555.2,338.5 L1555.9,339.9 L1556.6,341.4 L1557.4,343.0 L1558.1,344.5 L1558.8,346.2 L1559.5,348.0 L1560.2,349.8 L1560.9,351.6 L1561.6,353.5 L1562.4,355.4 L1563.1,357.3 L1563.8,359.2 L1564.5,361.1 L1565.2,363.0 L1565.9,364.9 L1566.6,366.8 L1567.3,368.6 L1568.1,370.5 L1568.8,372.4 L1569.5,374.3 L1570.2,376.3 L1570.9,378.3 L1571.6,380.4 L1572.3,382.4 L1573.1,384.4 L1573.8,386.3 L1574.5,388.1 L1575.2,389.9 L1575.9,391.8 L1576.6,393.6 L1577.3,395.4 L1578.0,397.3 L1578.8,398.9 L1579.5,400.2 L1580.2,401.1 L1580.9,401.5 L1581.6,401.9 L1582.3,402.3 L1583.0,402.7 L1583.7,403.1 L1584.5,403.5 L1585.2,403.9 L1585.9,404.3 L1586.6,404.6 L1587.3,405.0 L1588.0,405.4 L1588.7,405.8 L1589.5,406.3 L1590.2,406.8 L1590.9,407.2 L1591.6,407.7 L1592.3,408.2 L1593.0,408.6 L1593.7,409.1 L1594.4,409.6 L1595.2,410.1 L1595.9,410.6 L1596.6,411.2 L1597.3,412.0 L1598.0,412.9 L1598.7,413.8 L1599.4,414.6 L1600.2,415.5 L1600.9,416.3 L1601.6,417.2 L1602.3,418.1 L1603.0,418.9 L1603.7,419.8 L1604.4,420.7 L1605.1,421.5 L1605.9,422.4 L1606.8,418.5 L1607.8,413.8 L1608.8,408.5 L1609.7,402.7 L1610.7,395.5 L1611.7,388.0 L1612.7,380.1 L1613.6,372.7 L1614.6,365.3 L1615.6,358.8 L1616.6,353.3 L1617.5,348.6 L1618.5,344.6 L1619.5,341.1 L1620.4,338.3 L1621.4,336.1 L1622.4,334.3 L1623.4,333.2 L1624.3,332.3 L1625.3,331.8 L1626.0,332.2 L1626.7,332.8 L1627.5,333.4 L1628.2,334.2 L1628.9,335.0 L1629.6,335.9 L1630.3,336.8 L1631.0,337.9 L1631.8,339.1 L1632.5,340.5 L1633.2,342.0 L1633.9,343.5 L1634.6,345.1 L1635.3,346.7 L1636.1,348.5 L1636.8,350.3 L1637.5,352.1 L1638.2,353.9 L1638.9,355.8 L1639.7,357.6 L1640.4,359.5 L1641.1,361.4 L1641.8,363.3 L1642.5,365.1 L1643.2,366.9 L1644.0,368.8 L1644.7,370.6 L1645.4,372.4 L1646.1,374.3 L1646.8,376.3 L1647.6,378.3 L1648.3,380.3 L1649.0,382.4 L1649.7,384.3 L1650.4,386.2 L1651.1,388.0 L1651.9,389.8 L1652.6,391.6 L1653.3,393.4 L1654.0,395.2 L1654.7,397.0 L1655.4,398.7 L1656.2,400.2 L1656.9,401.3 L1657.6,401.7 L1658.3,402.0 L1659.0,402.4 L1659.8,402.8 L1660.5,403.2 L1661.2,403.6 L1661.9,404.0 L1662.6,404.4 L1663.3,404.8 L1664.1,405.2 L1664.8,405.6 L1665.5,406.0 L1666.2,406.4 L1666.9,406.8 L1667.6,407.3 L1668.4,407.8 L1669.1,408.2 L1669.8,408.7 L1670.5,409.1 L1671.2,409.6 L1672.0,410.0 L1672.7,410.5 L1673.4,411.1 L1674.1,411.9 L1674.8,412.8 L1675.5,413.7 L1676.3,414.6 L1677.0,415.4 L1677.7,416.3 L1678.4,417.2 L1679.1,418.0 L1679.8,418.9 L1680.6,419.8 L1681.3,420.7 L1682.0,421.5 L1682.7,422.4 L1683.7,418.8 L1684.7,414.2 L1685.7,408.9 L1686.7,402.8 L1687.6,395.1 L1688.6,387.6 L1689.6,380.2 L1690.6,373.0 L1691.6,365.6 L1692.6,359.1 L1693.5,353.6 L1694.5,348.9 L1695.5,344.8 L1696.5,341.2 L1697.5,338.4 L1698.5,336.1 L1699.4,334.4 L1700.4,333.2 L1701.4,332.3 L1702.4,331.8 L1703.1,332.2 L1703.8,332.8 L1704.5,333.5 L1705.3,334.2 L1706.0,335.1 L1706.7,336.0 L1707.4,336.9 L1708.1,338.0 L1708.8,339.3 L1709.5,340.7 L1710.3,342.2 L1711.0,343.8 L1711.7,345.4 L1712.4,347.0 L1713.1,348.8 L1713.8,350.6 L1714.6,352.5 L1715.3,354.4 L1716.0,356.2 L1716.7,358.1 L1717.4,360.0 L1718.1,361.8 L1718.8,363.7 L1719.6,365.6 L1720.3,367.4 L1721.0,369.2 L1721.7,371.0 L1722.4,372.9 L1723.1,374.8 L1723.8,376.7 L1724.6,378.8 L1725.3,380.9 L1726.0,383.0 L1726.7,385.0 L1727.4,386.9 L1728.1,388.7 L1728.8,390.5 L1729.6,392.3 L1730.3,394.1 L1731.0,395.9 L1731.7,397.7 L1732.4,399.5 L1733.1,401.3 L1733.8,402.6 L1734.6,403.0 L1735.3,403.4 L1736.0,403.8 L1736.7,404.2 L1737.4,404.6 L1738.1,405.0 L1738.9,405.4 L1739.6,405.8 L1740.3,406.2 L1741.0,406.6 L1741.7,407.0 L1742.4,407.4 L1743.1,407.8 L1743.9,408.2 L1744.6,408.7 L1745.3,409.1 L1746.0,409.6 L1746.7,410.1 L1747.4,410.5 L1748.1,411.0 L1748.9,411.4 L1749.6,411.9 L1750.3,412.4 L1751.0,413.3 L1751.7,414.2 L1752.4,415.1 L1753.1,416.0 L1753.9,416.9 L1754.6,417.8 L1755.3,418.7 L1756.0,419.6 L1756.7,420.5 L1757.4,421.4 L1758.2,422.3 L1758.9,423.2 L1759.6,424.1 L1760.6,421.1 L1761.6,417.2 L1762.6,412.6 L1763.6,407.4 L1764.6,400.9 L1765.6,394.5 L1766.7,388.3 L1767.7,382.1 L1768.7,375.9 L1769.7,370.3 L1770.7,365.7 L1771.7,361.6 L1772.7,358.2 L1773.7,355.1 L1774.7,352.7 L1775.8,350.8 L1776.8,349.3 L1777.8,348.3 L1778.8,347.5 L1779.8,347.1 L1780.5,347.5 L1781.2,348.0 L1781.9,348.6 L1782.6,349.3 L1783.3,350.1 L1784.0,350.9 L1784.8,351.7 L1785.5,352.7 L1786.2,353.8 L1786.9,355.1 L1787.6,356.5 L1788.3,357.9 L1789.0,359.3 L1789.7,360.8 L1790.4,362.4 L1791.1,364.1 L1791.8,365.8 L1792.5,367.4 L1793.3,369.1 L1794.0,370.8 L1794.7,372.5 L1795.4,374.2 L1796.1,375.9 L1796.8,377.6 L1797.5,379.2 L1798.2,380.8 L1798.9,382.5 L1799.6,384.1 L1800.3,385.8 L1801.0,387.6 L1801.7,389.5 L1802.5,391.4 L1803.2,393.2 L1803.9,395.1 L1804.6,396.8 L1805.3,398.4 L1806.0,400.0 L1806.7,401.7 L1807.4,403.3 L1808.1,404.9 L1808.8,406.5 L1809.5,408.2 L1810.2,409.8 L1811.0,410.9 L1811.7,411.3 L1812.4,411.6 L1813.1,412.0 L1813.8,412.3 L1814.5,412.7 L1815.2,413.0 L1815.9,413.4 L1816.6,413.8 L1817.3,414.1 L1818.0,414.5 L1818.7,414.8 L1819.4,415.2 L1820.2,415.6 L1820.9,416.0 L1821.6,416.4 L1822.3,416.8 L1823.0,417.2 L1823.7,417.6 L1824.4,418.0 L1825.1,418.5 L1825.8,418.9 L1826.5,419.3 L1827.2,419.7 L1827.9,420.6 L1828.7,421.4 L1829.4,422.2 L1830.1,423.0 L1830.8,423.8 L1831.5,424.6 L1832.2,425.4 L1832.9,426.2 L1833.6,427.1 L1834.3,427.9 L1835.0,428.7 L1835.7,429.5 L1836.4,430.3 L1837.4,426.5 L1838.4,421.6 L1839.3,415.8 L1840.3,409.3 L1841.2,401.1 L1842.2,393.0 L1843.1,385.2 L1844.1,377.4 L1845.1,369.5 L1846.0,362.5 L1847.0,356.7 L1847.9,351.6 L1848.9,347.2 L1849.9,343.4 L1850.8,340.4 L1851.8,337.9 L1852.7,336.1 L1853.7,334.8 L1854.6,333.8 L1855.6,333.3 L1856.3,333.7 L1857.0,334.3 L1857.8,335.0 L1858.5,335.8 L1859.2,336.6 L1859.9,337.5 L1860.6,338.5 L1861.4,339.6 L1862.1,340.8 L1862.8,342.3 L1863.5,343.8 L1864.3,345.4 L1865.0,347.0 L1865.7,348.6 L1866.4,350.4 L1867.1,352.3 L1867.9,354.2 L1868.6,356.0 L1869.3,357.9 L1870.0,359.8 L1870.7,361.7 L1871.5,363.6 L1872.2,365.5 L1872.9,367.3 L1873.6,369.2 L1874.4,371.0 L1875.1,372.8 L1875.8,374.7 L1876.5,376.6 L1877.2,378.6 L1878.0,380.7 L1878.7,382.8 L1879.4,384.9 L1880.1,386.9 L1880.8,388.8 L1881.6,390.7 L1882.3,392.5 L1883.0,394.3 L1883.7,396.1 L1884.4,397.9 L1885.2,399.7 L1885.9,401.5 L1886.6,403.4 L1887.3,404.6 L1888.1,405.0 L1888.8,405.4 L1889.5,405.8 L1890.2,406.2 L1890.9,406.6 L1891.7,407.0 L1892.4,407.4 L1893.1,407.8 L1893.8,408.2 L1894.5,408.6 L1895.3,409.0 L1896.0,409.4 L1896.7,409.8 L1897.4,410.3 L1898.2,410.8 L1898.9,411.2 L1899.6,411.7 L1900.3,412.1 L1901.0,412.6 L1901.8,413.1 L1902.5,413.5 L1903.2,414.0 L1903.9,414.5 L1904.6,415.4 L1905.4,416.3 L1906.1,417.2 L1906.8,418.1 L1907.5,419.0 L1908.3,419.9 L1909.0,420.9 L1909.7,421.8 L1910.4,422.7 L1911.1,423.6 L1911.9,424.5 L1912.6,425.4 L1913.3,426.3 L1914.3,423.2 L1915.3,419.2 L1916.3,414.5 L1917.3,409.1 L1918.3,402.5 L1919.3,395.9 L1920.3,389.4 L1921.3,383.1 L1922.3,376.7 L1923.3,371.0 L1924.3,366.2 L1925.3,362.0 L1926.3,358.5 L1927.3,355.4 L1928.3,352.9 L1929.3,350.9 L1930.3,349.4 L1931.3,348.3 L1932.3,347.5 L1933.3,347.1 L1934.0,347.5 L1934.7,348.0 L1935.4,348.6 L1936.1,349.2 L1936.9,350.0 L1937.6,350.8 L1938.3,351.6 L1939.0,352.5 L1939.7,353.7 L1940.4,354.9 L1941.1,356.2 L1941.8,357.6 L1942.5,359.0 L1943.3,360.4 L1944.0,362.0 L1944.7,363.6 L1945.4,365.2 L1946.1,366.9 L1946.8,368.5 L1947.5,370.1 L1948.2,371.8 L1948.9,373.4 L1949.6,375.1 L1950.4,376.7 L1951.1,378.3 L1951.8,379.9 L1952.5,381.5 L1953.2,383.1 L1953.9,384.8 L1954.6,386.5 L1955.3,388.3 L1956.0,390.1 L1956.8,392.0 L1957.5,393.7 L1958.2,395.4 L1958.9,397.0 L1959.6,398.6"/>
<path class="crv" stroke="#1a6fdf" d="M249.5,640.0 L262.0,667.0 L272.0,692.0 L278.0,701.5 L289.0,702.5 L299.2,701.5 L300.0,665.9 L300.8,629.7 L301.5,593.0 L302.3,553.8 L303.0,520.8 L303.8,495.3 L304.5,471.3 L305.3,447.5 L306.1,426.3 L306.8,407.3 L307.6,392.6 L308.3,382.7 L309.1,374.5 L309.9,367.9 L310.6,362.2 L311.4,357.1 L312.1,353.0 L312.9,350.3 L313.6,348.2 L314.4,347.0 L315.2,347.7 L315.9,348.6 L316.7,349.7 L317.5,351.0 L318.3,352.4 L319.0,353.9 L319.8,355.8 L320.6,358.1 L321.3,360.4 L322.1,362.5 L322.9,364.2 L323.7,365.6 L324.4,367.0 L325.2,368.2 L326.0,369.4 L326.7,370.6 L327.5,371.6 L328.3,372.5 L329.1,373.5 L329.8,374.6 L330.6,376.0 L331.4,377.8 L332.1,380.1 L332.9,382.7 L333.7,385.8 L334.5,389.2 L335.2,392.8 L336.0,397.2 L336.8,402.4 L337.5,408.2 L338.3,414.4 L339.1,420.8 L339.9,427.2 L340.6,433.7 L341.4,440.4 L342.2,447.4 L342.9,454.3 L343.7,461.2 L344.5,468.4 L345.2,476.0 L346.0,483.5 L346.8,491.0 L347.6,498.5 L348.3,506.1 L349.1,513.8 L349.9,521.5 L350.6,529.2 L351.4,536.9 L352.2,542.1 L353.0,547.3 L353.7,552.5 L354.5,555.3 L355.3,556.2 L356.0,557.1 L356.8,557.9 L357.6,558.8 L358.4,559.7 L359.1,560.6 L359.9,561.4 L360.7,562.3 L361.4,563.1 L362.2,563.7 L363.0,564.3 L363.8,564.8 L364.5,565.4 L365.3,566.0 L366.1,566.5 L366.8,567.1 L367.6,567.7 L368.4,568.2 L369.2,568.8 L369.9,569.4 L370.7,569.9 L371.5,570.5 L372.2,571.1 L373.0,571.6 L373.8,572.2 L374.6,572.8 L375.3,573.3 L376.1,573.9 L376.9,545.5 L377.7,516.6 L378.5,487.3 L379.3,456.0 L380.2,429.7 L381.0,409.4 L381.8,390.2 L382.6,371.2 L383.4,354.3 L384.2,339.1 L385.0,327.4 L385.8,319.4 L386.6,313.0 L387.4,307.7 L388.2,303.1 L389.1,299.1 L389.9,295.8 L390.7,293.6 L391.5,292.0 L392.3,291.0 L393.1,291.6 L393.8,292.5 L394.6,293.5 L395.3,294.8 L396.1,296.2 L396.8,297.8 L397.6,299.9 L398.4,302.4 L399.1,305.4 L399.9,308.1 L400.6,309.7 L401.4,311.0 L402.2,312.2 L402.9,313.3 L403.7,314.5 L404.4,315.6 L405.2,316.7 L405.9,317.7 L406.7,318.9 L407.5,320.1 L408.2,321.7 L409.0,323.6 L409.7,326.0 L410.5,328.8 L411.3,332.1 L412.0,335.7 L412.8,339.6 L413.5,344.0 L414.3,349.0 L415.0,354.4 L415.8,360.1 L416.6,366.1 L417.3,372.2 L418.1,378.4 L418.8,384.9 L419.6,391.4 L420.4,397.9 L421.1,404.4 L421.9,411.2 L422.6,418.3 L423.4,425.3 L424.1,432.6 L424.9,439.9 L425.7,447.3 L426.4,454.6 L427.2,461.8 L427.9,469.1 L428.7,476.2 L429.5,481.5 L430.2,486.5 L431.0,490.5 L431.7,492.8 L432.5,493.6 L433.2,494.5 L434.0,495.3 L434.8,496.2 L435.5,497.0 L436.3,497.9 L437.0,498.7 L437.8,499.6 L438.6,500.4 L439.3,501.0 L440.1,501.7 L440.8,502.3 L441.6,502.9 L442.3,503.5 L443.1,504.1 L443.9,504.7 L444.6,505.3 L445.4,505.9 L446.1,506.5 L446.9,507.1 L447.7,507.7 L448.4,508.3 L449.2,508.9 L449.9,509.5 L450.7,510.1 L451.4,510.7 L452.2,511.3 L453.0,511.9 L453.8,486.4 L454.6,460.5 L455.4,434.2 L456.3,406.1 L457.1,382.4 L457.9,364.2 L458.7,347.0 L459.6,329.9 L460.4,314.7 L461.2,301.1 L462.1,290.6 L462.9,283.4 L463.7,277.6 L464.5,272.8 L465.4,268.8 L466.2,265.1 L467.0,262.2 L467.8,260.3 L468.7,258.8 L469.5,257.9 L470.3,258.4 L471.0,259.2 L471.8,260.2 L472.5,261.5 L473.3,262.8 L474.0,264.6 L474.8,266.9 L475.5,269.6 L476.3,273.1 L477.0,276.3 L477.8,277.9 L478.5,279.1 L479.3,280.1 L480.1,281.0 L480.8,282.1 L481.6,283.2 L482.3,284.3 L483.1,285.5 L483.8,286.8 L484.6,288.2 L485.3,289.9 L486.1,292.0 L486.8,294.4 L487.6,297.2 L488.3,300.7 L489.1,304.5 L489.9,308.7 L490.6,313.1 L491.4,317.7 L492.1,322.7 L492.9,328.0 L493.6,333.5 L494.4,339.2 L495.1,345.2 L495.9,351.2 L496.6,357.3 L497.4,363.4 L498.2,369.5 L498.9,375.8 L499.7,382.3 L500.4,388.8 L501.2,395.8 L501.9,402.9 L502.7,409.9 L503.4,416.8 L504.2,423.6 L504.9,430.3 L505.7,436.8 L506.4,442.2 L507.2,446.9 L508.0,449.8 L508.7,451.5 L509.5,452.3 L510.2,453.2 L511.0,454.0 L511.7,454.8 L512.5,455.7 L513.2,456.5 L514.0,457.3 L514.7,458.1 L515.5,458.9 L516.2,459.6 L517.0,460.3 L517.8,461.0 L518.5,461.7 L519.3,462.3 L520.0,462.9 L520.8,463.6 L521.5,464.2 L522.3,464.8 L523.0,465.4 L523.8,466.0 L524.5,466.7 L525.3,467.3 L526.0,467.9 L526.8,468.5 L527.6,469.1 L528.3,469.8 L529.1,470.4 L529.8,471.0 L530.6,446.8 L531.5,422.1 L532.3,397.1 L533.1,370.5 L533.9,348.0 L534.8,330.7 L535.6,314.3 L536.4,298.1 L537.2,283.7 L538.1,270.7 L538.9,260.8 L539.7,254.0 L540.5,248.4 L541.4,243.9 L542.2,240.0 L543.0,236.6 L543.8,233.8 L544.7,231.9 L545.5,230.5 L546.3,229.7 L547.1,230.1 L547.8,230.8 L548.6,231.8 L549.3,233.0 L550.1,234.4 L550.8,236.2 L551.6,238.7 L552.3,241.6 L553.1,245.6 L553.8,249.3 L554.6,250.8 L555.4,251.9 L556.1,252.7 L556.9,253.5 L557.6,254.5 L558.4,255.6 L559.1,256.8 L559.9,258.1 L560.6,259.5 L561.4,261.0 L562.1,262.9 L562.9,265.0 L563.7,267.5 L564.4,270.4 L565.2,273.9 L565.9,278.0 L566.7,282.3 L567.4,286.7 L568.2,291.1 L568.9,295.7 L569.7,300.4 L570.5,305.5 L571.2,311.0 L572.0,316.6 L572.7,322.3 L573.5,327.9 L574.2,333.6 L575.0,339.3 L575.7,345.2 L576.5,351.2 L577.2,357.2 L578.0,363.8 L578.8,370.6 L579.5,377.4 L580.3,383.8 L581.0,390.2 L581.8,396.4 L582.5,402.3 L583.3,407.7 L584.0,412.2 L584.8,414.0 L585.5,415.2 L586.3,416.0 L587.1,416.8 L587.8,417.6 L588.6,418.4 L589.3,419.2 L590.1,420.1 L590.8,420.9 L591.6,421.7 L592.3,422.5 L593.1,423.2 L593.8,423.9 L594.6,424.7 L595.4,425.4 L596.1,426.0 L596.9,426.7 L597.6,427.3 L598.4,428.0 L599.1,428.6 L599.9,429.2 L600.6,429.9 L601.4,430.5 L602.2,431.2 L602.9,431.8 L603.7,432.4 L604.4,433.1 L605.2,433.7 L605.9,434.4 L606.7,435.0 L607.5,410.2 L608.4,385.0 L609.2,359.4 L610.0,332.1 L610.9,309.1 L611.7,291.4 L612.6,274.6 L613.4,258.0 L614.2,243.2 L615.1,230.0 L615.9,219.8 L616.8,212.8 L617.6,207.2 L618.5,202.5 L619.3,198.6 L620.1,195.0 L621.0,192.2 L621.8,190.3 L622.7,188.8 L623.5,188.0 L624.3,188.3 L625.0,189.0 L625.8,190.1 L626.5,191.3 L627.3,192.8 L628.0,194.9 L628.8,197.7 L629.5,201.0 L630.3,205.8 L631.0,210.2 L631.8,211.8 L632.5,212.8 L633.3,213.6 L634.0,214.3 L634.8,215.2 L635.5,216.4 L636.3,217.7 L637.0,219.2 L637.8,220.8 L638.5,222.7 L639.3,224.7 L640.0,227.1 L640.8,229.9 L641.5,233.0 L642.3,237.0 L643.0,241.5 L643.8,246.4 L644.5,251.0 L645.3,255.5 L646.0,260.0 L646.8,264.6 L647.5,269.6 L648.3,275.1 L649.0,280.9 L649.8,286.7 L650.5,292.3 L651.3,297.9 L652.0,303.6 L652.8,309.5 L653.5,315.4 L654.3,321.4 L655.0,328.2 L655.8,335.3 L656.5,342.2 L657.3,348.6 L658.0,355.1 L658.8,361.3 L659.5,367.0 L660.3,372.8 L661.0,377.4 L661.8,378.3 L662.5,379.1 L663.3,379.9 L664.0,380.8 L664.8,381.6 L665.5,382.5 L666.3,383.3 L667.0,384.1 L667.8,385.0 L668.5,385.8 L669.3,386.6 L670.0,387.5 L670.8,388.3 L671.5,389.2 L672.3,390.0 L673.0,390.7 L673.8,391.4 L674.5,392.1 L675.3,392.8 L676.0,393.5 L676.8,394.2 L677.5,394.9 L678.3,395.7 L679.0,396.4 L679.8,397.1 L680.5,397.8 L681.3,398.5 L682.0,399.2 L682.8,399.9 L683.5,400.6 L684.4,377.4 L685.2,355.1 L686.0,332.8 L686.9,309.0 L687.7,288.5 L688.5,272.1 L689.4,256.6 L690.2,241.4 L691.0,227.9 L691.9,216.1 L692.7,207.0 L693.5,200.6 L694.4,195.3 L695.2,190.9 L696.0,187.1 L696.9,183.8 L697.7,181.2 L698.5,179.6 L699.4,178.3 L700.2,177.6 L701.0,177.9 L701.7,178.6 L702.5,179.6 L703.2,180.9 L704.0,182.2 L704.7,184.2 L705.5,186.9 L706.2,189.9 L707.0,194.2 L707.7,198.3 L708.5,199.9 L709.2,200.9 L710.0,201.7 L710.7,202.4 L711.5,203.3 L712.2,204.4 L713.0,205.6 L713.7,207.1 L714.5,208.7 L715.2,210.5 L716.0,212.6 L716.8,214.9 L717.5,217.8 L718.3,221.0 L719.0,224.9 L719.8,229.3 L720.5,233.9 L721.3,238.5 L722.0,242.8 L722.8,247.2 L723.5,251.7 L724.3,256.6 L725.0,261.9 L725.8,267.5 L726.5,273.1 L727.3,278.6 L728.0,284.0 L728.8,289.5 L729.5,295.1 L730.3,300.8 L731.1,306.5 L731.8,313.0 L732.6,319.6 L733.3,326.1 L734.1,332.1 L734.8,338.1 L735.6,343.9 L736.3,349.2 L737.1,354.5 L737.8,358.4 L738.6,359.3 L739.3,360.1 L740.1,360.9 L740.8,361.7 L741.6,362.5 L742.3,363.3 L743.1,364.2 L743.8,365.0 L744.6,365.8 L745.4,366.6 L746.1,367.4 L746.9,368.2 L747.6,369.1 L748.4,369.9 L749.1,370.7 L749.9,371.4 L750.6,372.1 L751.4,372.9 L752.1,373.6 L752.9,374.3 L753.6,375.0 L754.4,375.7 L755.1,376.5 L755.9,377.2 L756.6,377.9 L757.4,378.6 L758.1,379.3 L758.9,380.1 L759.6,380.8 L760.4,381.5 L761.2,359.8 L762.1,340.0 L762.9,320.6 L763.7,299.8 L764.5,281.6 L765.4,266.5 L766.2,252.0 L767.0,238.2 L767.9,225.8 L768.7,215.3 L769.5,207.2 L770.4,201.3 L771.2,196.2 L772.0,192.0 L772.9,188.4 L773.7,185.3 L774.5,183.0 L775.3,181.6 L776.2,180.5 L777.0,179.9 L777.8,180.2 L778.5,180.9 L779.3,181.8 L780.0,183.0 L780.8,184.2 L781.5,186.0 L782.3,188.4 L783.0,191.1 L783.8,194.9 L784.5,198.5 L785.3,200.1 L786.0,201.1 L786.8,201.8 L787.5,202.5 L788.3,203.2 L789.1,204.2 L789.8,205.4 L790.6,206.8 L791.3,208.3 L792.1,210.0 L792.8,212.0 L793.6,214.3 L794.3,217.0 L795.1,220.2 L795.8,223.9 L796.6,228.0 L797.3,232.3 L798.1,236.6 L798.8,240.7 L799.6,244.8 L800.4,249.1 L801.1,253.6 L801.9,258.6 L802.6,263.8 L803.4,269.0 L804.1,274.2 L804.9,279.2 L805.6,284.3 L806.4,289.5 L807.1,294.8 L807.9,300.1 L808.6,306.0 L809.4,312.0 L810.1,317.8 L810.9,323.2 L811.6,328.6 L812.4,333.8 L813.2,338.6 L813.9,343.1 L814.7,346.4 L815.4,347.2 L816.2,347.9 L816.9,348.7 L817.7,349.5 L818.4,350.2 L819.2,351.0 L819.9,351.8 L820.7,352.6 L821.4,353.3 L822.2,354.1 L822.9,354.9 L823.7,355.6 L824.5,356.4 L825.2,357.2 L826.0,357.9 L826.7,358.6 L827.5,359.3 L828.2,360.0 L829.0,360.7 L829.7,361.4 L830.5,362.2 L831.2,362.9 L832.0,363.6 L832.7,364.3 L833.5,365.0 L834.2,365.7 L835.0,366.4 L835.8,367.1 L836.5,367.8 L837.3,368.5 L838.1,347.1 L838.9,328.7 L839.8,310.8 L840.6,291.7 L841.4,274.6 L842.3,259.9 L843.1,245.8 L843.9,232.4 L844.7,220.5 L845.6,210.6 L846.4,202.9 L847.2,197.2 L848.1,192.2 L848.9,187.9 L849.7,184.4 L850.6,181.3 L851.4,179.1 L852.2,177.8 L853.1,176.8 L853.9,176.3 L854.7,176.6 L855.4,177.3 L856.2,178.2 L856.9,179.3 L857.7,180.5 L858.4,182.3 L859.2,184.6 L859.9,187.1 L860.7,190.5 L861.4,193.8 L862.2,195.5 L862.9,196.5 L863.7,197.2 L864.4,197.8 L865.2,198.6 L865.9,199.5 L866.7,200.7 L867.4,202.0 L868.2,203.5 L869.0,205.2 L869.7,207.2 L870.5,209.5 L871.2,212.4 L872.0,215.6 L872.7,219.4 L873.5,223.4 L874.2,227.6 L875.0,231.7 L875.7,235.8 L876.5,239.9 L877.2,244.1 L878.0,248.6 L878.7,253.4 L879.5,258.5 L880.2,263.6 L881.0,268.7 L881.8,273.7 L882.5,278.6 L883.3,283.7 L884.0,288.8 L884.8,293.9 L885.5,299.6 L886.3,305.3 L887.0,310.7 L887.8,315.9 L888.5,321.0 L889.3,325.9 L890.0,330.3 L890.8,334.5 L891.5,337.3 L892.3,338.1 L893.0,338.8 L893.8,339.6 L894.5,340.3 L895.3,341.1 L896.1,341.8 L896.8,342.6 L897.6,343.4 L898.3,344.1 L899.1,344.9 L899.8,345.6 L900.6,346.4 L901.3,347.1 L902.1,347.9 L902.8,348.7 L903.6,349.4 L904.3,350.1 L905.1,350.8 L905.8,351.5 L906.6,352.3 L907.3,353.0 L908.1,353.7 L908.9,354.4 L909.6,355.2 L910.4,355.9 L911.1,356.6 L911.9,357.3 L912.6,358.1 L913.4,358.8 L914.1,359.5 L915.0,338.0 L915.8,320.3 L916.7,303.5 L917.5,285.5 L918.4,269.1 L919.2,254.4 L920.1,240.2 L921.0,227.0 L921.8,215.3 L922.7,205.7 L923.5,198.3 L924.4,192.6 L925.2,187.5 L926.1,183.2 L926.9,179.6 L927.8,176.5 L928.6,174.3 L929.5,173.1 L930.3,172.2 L931.2,171.7 L931.9,172.0 L932.7,172.7 L933.4,173.6 L934.2,174.7 L934.9,175.9 L935.7,177.6 L936.4,179.7 L937.2,182.2 L937.9,185.2 L938.7,188.3 L939.4,190.0 L940.2,191.1 L940.9,191.8 L941.7,192.4 L942.4,193.1 L943.2,194.0 L943.9,195.1 L944.7,196.5 L945.4,198.0 L946.1,199.7 L946.9,201.7 L947.6,204.1 L948.4,207.0 L949.1,210.4 L949.9,214.1 L950.6,218.1 L951.4,222.2 L952.1,226.3 L952.9,230.4 L953.6,234.5 L954.4,238.7 L955.1,243.1 L955.9,247.8 L956.6,252.9 L957.4,258.0 L958.1,263.0 L958.8,267.9 L959.6,272.8 L960.3,277.7 L961.1,282.7 L961.8,287.8 L962.6,293.2 L963.3,298.7 L964.1,303.9 L964.8,308.7 L965.6,313.6 L966.3,318.2 L967.1,322.5 L967.8,326.3 L968.6,328.6 L969.3,329.4 L970.1,330.1 L970.8,330.9 L971.6,331.6 L972.3,332.4 L973.0,333.2 L973.8,333.9 L974.5,334.7 L975.3,335.4 L976.0,336.2 L976.8,336.9 L977.5,337.7 L978.3,338.4 L979.0,339.2 L979.8,339.9 L980.5,340.7 L981.3,341.4 L982.0,342.2 L982.8,342.9 L983.5,343.6 L984.3,344.4 L985.0,345.1 L985.7,345.9 L986.5,346.6 L987.2,347.4 L988.0,348.1 L988.7,348.9 L989.5,349.6 L990.2,350.4 L991.0,351.1 L991.8,329.4 L992.7,312.6 L993.5,296.9 L994.4,280.0 L995.2,264.2 L996.1,249.7 L996.9,235.5 L997.8,222.4 L998.6,210.8 L999.5,201.7 L1000.3,194.5 L1001.2,188.9 L1002.0,183.8 L1002.9,179.3 L1003.7,175.6 L1004.6,172.5 L1005.4,170.4 L1006.3,169.3 L1007.1,168.4 L1008.0,168.0 L1008.7,168.4 L1009.5,169.0 L1010.2,169.9 L1011.0,171.0 L1011.7,172.1 L1012.5,173.7 L1013.2,175.8 L1014.0,178.1 L1014.7,180.8 L1015.5,183.6 L1016.2,185.4 L1017.0,186.5 L1017.7,187.2 L1018.5,187.8 L1019.2,188.5 L1020.0,189.3 L1020.7,190.4 L1021.5,191.7 L1022.2,193.2 L1023.0,195.0 L1023.7,197.0 L1024.5,199.4 L1025.2,202.4 L1026.0,205.8 L1026.7,209.6 L1027.4,213.5 L1028.2,217.5 L1028.9,221.5 L1029.7,225.6 L1030.4,229.6 L1031.2,233.8 L1031.9,238.1 L1032.7,242.7 L1033.4,247.7 L1034.2,252.7 L1034.9,257.7 L1035.7,262.5 L1036.4,267.2 L1037.2,272.0 L1037.9,276.9 L1038.7,281.8 L1039.4,287.0 L1040.2,292.3 L1040.9,297.1 L1041.7,301.7 L1042.4,306.3 L1043.2,310.7 L1043.9,314.7 L1044.7,318.1 L1045.4,320.0 L1046.1,320.8 L1046.9,321.5 L1047.6,322.3 L1048.4,323.0 L1049.1,323.7 L1049.9,324.5 L1050.6,325.2 L1051.4,326.0 L1052.1,326.7 L1052.9,327.5 L1053.6,328.2 L1054.4,328.9 L1055.1,329.7 L1055.9,330.4 L1056.6,331.2 L1057.4,331.9 L1058.1,332.7 L1058.9,333.5 L1059.6,334.2 L1060.4,335.0 L1061.1,335.7 L1061.9,336.5 L1062.6,337.3 L1063.4,338.0 L1064.1,338.8 L1064.8,339.6 L1065.6,340.3 L1066.3,341.1 L1067.1,341.8 L1067.8,342.6 L1068.7,320.7 L1069.5,304.5 L1070.4,289.8 L1071.2,273.9 L1072.1,258.6 L1072.9,244.0 L1073.8,229.8 L1074.6,216.8 L1075.5,205.3 L1076.3,196.4 L1077.2,189.5 L1078.0,183.9 L1078.9,178.7 L1079.7,174.1 L1080.6,170.4 L1081.4,167.2 L1082.3,165.2 L1083.1,164.0 L1084.0,163.3 L1084.8,162.9 L1085.5,163.3 L1086.3,164.0 L1087.0,164.9 L1087.8,165.9 L1088.5,167.1 L1089.3,168.7 L1090.0,170.6 L1090.8,172.8 L1091.5,175.3 L1092.3,178.0 L1093.0,179.9 L1093.8,181.0 L1094.5,181.7 L1095.3,182.3 L1096.0,183.0 L1096.8,183.8 L1097.5,184.9 L1098.3,186.2 L1099.0,187.8 L1099.8,189.6 L1100.5,191.6 L1101.3,194.1 L1102.0,197.2 L1102.8,200.8 L1103.5,204.7 L1104.3,208.6 L1105.0,212.6 L1105.8,216.7 L1106.5,220.8 L1107.3,225.0 L1108.0,229.2 L1108.8,233.6 L1109.5,238.2 L1110.3,243.1 L1111.0,248.2 L1111.8,253.3 L1112.5,258.1 L1113.3,262.9 L1114.0,267.7 L1114.8,272.5 L1115.5,277.4 L1116.2,282.5 L1117.0,287.7 L1117.7,292.4 L1118.5,296.8 L1119.2,301.3 L1120.0,305.5 L1120.7,309.3 L1121.5,312.5 L1122.2,314.1 L1123.0,314.8 L1123.7,315.6 L1124.5,316.3 L1125.2,317.1 L1126.0,317.8 L1126.7,318.6 L1127.5,319.3 L1128.2,320.1 L1129.0,320.8 L1129.7,321.6 L1130.5,322.3 L1131.2,323.1 L1132.0,323.8 L1132.7,324.6 L1133.5,325.3 L1134.2,326.1 L1135.0,326.9 L1135.7,327.7 L1136.5,328.5 L1137.2,329.3 L1138.0,330.1 L1138.7,330.9 L1139.5,331.7 L1140.2,332.5 L1141.0,333.3 L1141.7,334.1 L1142.5,334.9 L1143.2,335.7 L1144.0,336.5 L1144.7,337.3 L1145.6,315.0 L1146.4,299.4 L1147.3,285.5 L1148.2,270.5 L1149.0,255.6 L1149.9,241.0 L1150.8,226.5 L1151.7,213.6 L1152.5,202.1 L1153.4,193.5 L1154.3,186.8 L1155.1,181.1 L1156.0,175.8 L1156.9,171.0 L1157.8,167.2 L1158.6,164.0 L1159.5,162.0 L1160.4,160.9 L1161.2,160.2 L1162.1,159.9 L1162.8,160.3 L1163.6,161.0 L1164.3,161.9 L1165.1,162.9 L1165.8,164.1 L1166.6,165.6 L1167.3,167.6 L1168.0,169.7 L1168.8,171.9 L1169.5,174.4 L1170.3,176.3 L1171.0,177.5 L1171.8,178.3 L1172.5,178.9 L1173.2,179.5 L1174.0,180.3 L1174.7,181.4 L1175.5,182.7 L1176.2,184.3 L1177.0,186.1 L1177.7,188.2 L1178.5,190.8 L1179.2,194.0 L1179.9,197.8 L1180.7,201.7 L1181.4,205.6 L1182.2,209.7 L1182.9,213.8 L1183.7,217.9 L1184.4,222.1 L1185.1,226.4 L1185.9,230.8 L1186.6,235.4 L1187.4,240.3 L1188.1,245.5 L1188.9,250.5 L1189.6,255.4 L1190.3,260.1 L1191.1,264.9 L1191.8,269.7 L1192.6,274.6 L1193.3,279.6 L1194.1,284.7 L1194.8,289.1 L1195.5,293.4 L1196.3,297.7 L1197.0,301.8 L1197.8,305.4 L1198.5,308.4 L1199.3,309.5 L1200.0,310.3 L1200.7,311.0 L1201.5,311.8 L1202.2,312.5 L1203.0,313.3 L1203.7,314.0 L1204.5,314.8 L1205.2,315.6 L1206.0,316.3 L1206.7,317.1 L1207.4,317.8 L1208.2,318.6 L1208.9,319.4 L1209.7,320.1 L1210.4,320.9 L1211.2,321.7 L1211.9,322.5 L1212.6,323.4 L1213.4,324.2 L1214.1,325.0 L1214.9,325.8 L1215.6,326.7 L1216.4,327.5 L1217.1,328.3 L1217.8,329.2 L1218.6,330.0 L1219.3,330.8 L1220.1,331.6 L1220.8,332.5 L1221.6,333.3 L1222.4,310.7 L1223.3,295.6 L1224.1,282.5 L1225.0,268.2 L1225.9,253.8 L1226.7,239.1 L1227.6,224.5 L1228.5,211.6 L1229.3,200.1 L1230.2,191.7 L1231.0,185.1 L1231.9,179.4 L1232.8,174.0 L1233.6,169.1 L1234.5,165.2 L1235.4,161.9 L1236.2,159.9 L1237.1,159.0 L1237.9,158.3 L1238.8,158.0 L1239.5,158.4 L1240.3,159.1 L1241.0,160.0 L1241.8,161.0 L1242.5,162.2 L1243.3,163.7 L1244.0,165.5 L1244.8,167.5 L1245.5,169.5 L1246.3,171.8 L1247.0,173.8 L1247.7,175.0 L1248.5,175.8 L1249.2,176.4 L1250.0,177.0 L1250.7,177.8 L1251.5,178.8 L1252.2,180.1 L1253.0,181.8 L1253.7,183.6 L1254.5,185.8 L1255.2,188.3 L1255.9,191.7 L1256.7,195.6 L1257.4,199.6 L1258.2,203.5 L1258.9,207.5 L1259.7,211.6 L1260.4,215.8 L1261.2,220.0 L1261.9,224.3 L1262.6,228.7 L1263.4,233.2 L1264.1,238.2 L1264.9,243.3 L1265.6,248.4 L1266.4,253.2 L1267.1,257.9 L1267.9,262.6 L1268.6,267.4 L1269.4,272.2 L1270.1,277.1 L1270.8,282.0 L1271.6,286.2 L1272.3,290.3 L1273.1,294.4 L1273.8,298.3 L1274.6,301.7 L1275.3,304.4 L1276.1,305.2 L1276.8,305.9 L1277.6,306.7 L1278.3,307.5 L1279.0,308.2 L1279.8,309.0 L1280.5,309.7 L1281.3,310.5 L1282.0,311.3 L1282.8,312.0 L1283.5,312.8 L1284.3,313.5 L1285.0,314.3 L1285.8,315.1 L1286.5,315.8 L1287.2,316.6 L1288.0,317.4 L1288.7,318.3 L1289.5,319.1 L1290.2,320.0 L1291.0,320.9 L1291.7,321.7 L1292.5,322.6 L1293.2,323.4 L1293.9,324.3 L1294.7,325.1 L1295.4,326.0 L1296.2,326.8 L1296.9,327.7 L1297.7,328.5 L1298.4,329.4 L1299.3,308.3 L1300.2,293.2 L1301.1,279.6 L1302.0,265.1 L1302.8,250.8 L1303.7,236.2 L1304.6,221.9 L1305.5,209.1 L1306.4,197.9 L1307.3,189.6 L1308.1,183.1 L1309.0,177.4 L1309.9,172.0 L1310.8,167.1 L1311.7,163.1 L1312.6,159.8 L1313.4,157.8 L1314.3,156.7 L1315.2,155.9 L1316.1,155.6 L1316.8,156.1 L1317.6,156.8 L1318.3,157.7 L1319.1,158.7 L1319.8,159.8 L1320.5,161.3 L1321.3,163.2 L1322.0,165.1 L1322.8,167.1 L1323.5,169.3 L1324.2,171.2 L1325.0,172.4 L1325.7,173.2 L1326.5,173.9 L1327.2,174.5 L1327.9,175.2 L1328.7,176.2 L1329.4,177.5 L1330.2,179.0 L1330.9,180.9 L1331.6,183.0 L1332.4,185.5 L1333.1,188.7 L1333.9,192.5 L1334.6,196.3 L1335.3,200.1 L1336.1,204.1 L1336.8,208.1 L1337.6,212.3 L1338.3,216.6 L1339.0,220.8 L1339.8,225.2 L1340.5,229.7 L1341.3,234.6 L1342.0,239.6 L1342.7,244.6 L1343.5,249.3 L1344.2,254.0 L1345.0,258.6 L1345.7,263.3 L1346.4,268.1 L1347.2,272.9 L1347.9,277.7 L1348.6,281.9 L1349.4,286.0 L1350.1,290.2 L1350.9,294.2 L1351.6,297.7 L1352.3,300.5 L1353.1,301.6 L1353.8,302.3 L1354.6,303.0 L1355.3,303.8 L1356.0,304.5 L1356.8,305.2 L1357.5,305.9 L1358.3,306.7 L1359.0,307.4 L1359.7,308.1 L1360.5,308.8 L1361.2,309.5 L1362.0,310.3 L1362.7,311.0 L1363.4,311.7 L1364.2,312.5 L1364.9,313.4 L1365.7,314.2 L1366.4,315.1 L1367.1,316.0 L1367.9,316.8 L1368.6,317.7 L1369.4,318.6 L1370.1,319.4 L1370.8,320.3 L1371.6,321.2 L1372.3,322.0 L1373.1,322.9 L1373.8,323.8 L1374.5,324.6 L1375.3,325.5 L1376.1,305.9 L1377.0,290.9 L1377.8,276.9 L1378.7,262.3 L1379.5,248.0 L1380.4,233.8 L1381.2,219.8 L1382.1,207.2 L1382.9,196.3 L1383.8,188.1 L1384.6,181.7 L1385.5,176.0 L1386.3,170.7 L1387.2,165.8 L1388.0,161.8 L1388.9,158.5 L1389.7,156.4 L1390.6,155.2 L1391.4,154.3 L1392.3,154.0 L1393.0,154.5 L1393.8,155.2 L1394.5,156.1 L1395.3,157.2 L1396.0,158.3 L1396.8,159.8 L1397.5,161.6 L1398.3,163.6 L1399.0,165.6 L1399.8,167.7 L1400.5,169.5 L1401.3,170.7 L1402.0,171.5 L1402.8,172.2 L1403.5,172.8 L1404.3,173.5 L1405.0,174.5 L1405.8,175.7 L1406.5,177.2 L1407.3,179.1 L1408.0,181.2 L1408.8,183.7 L1409.5,186.8 L1410.3,190.4 L1411.0,194.1 L1411.7,197.9 L1412.5,201.8 L1413.2,205.8 L1414.0,210.1 L1414.7,214.3 L1415.5,218.6 L1416.2,223.0 L1417.0,227.6 L1417.7,232.3 L1418.5,237.3 L1419.2,242.2 L1420.0,246.9 L1420.7,251.5 L1421.5,256.1 L1422.2,260.7 L1423.0,265.5 L1423.7,270.2 L1424.5,274.9 L1425.2,279.2 L1426.0,283.4 L1426.7,287.6 L1427.5,291.7 L1428.2,295.5 L1429.0,298.4 L1429.7,299.7 L1430.4,300.4 L1431.2,301.1 L1431.9,301.8 L1432.7,302.5 L1433.4,303.2 L1434.2,303.9 L1434.9,304.6 L1435.7,305.3 L1436.4,306.0 L1437.2,306.7 L1437.9,307.3 L1438.7,308.0 L1439.4,308.7 L1440.2,309.4 L1440.9,310.3 L1441.7,311.1 L1442.4,312.0 L1443.2,312.9 L1443.9,313.8 L1444.7,314.7 L1445.4,315.6 L1446.2,316.4 L1446.9,317.3 L1447.7,318.2 L1448.4,319.1 L1449.1,320.0 L1449.9,320.9 L1450.6,321.7 L1451.4,322.6 L1452.1,323.5 L1453.0,305.4 L1453.9,290.5 L1454.7,275.9 L1455.6,261.3 L1456.4,247.1 L1457.3,233.0 L1458.1,219.4 L1459.0,207.0 L1459.9,196.3 L1460.7,188.3 L1461.6,181.9 L1462.4,176.3 L1463.3,171.0 L1464.2,166.1 L1465.0,162.1 L1465.9,158.8 L1466.7,156.6 L1467.6,155.3 L1468.4,154.4 L1469.3,154.0 L1470.0,154.5 L1470.8,155.2 L1471.5,156.2 L1472.3,157.2 L1473.0,158.4 L1473.8,159.8 L1474.5,161.6 L1475.3,163.6 L1476.0,165.5 L1476.8,167.5 L1477.5,169.2 L1478.3,170.4 L1479.0,171.3 L1479.7,172.0 L1480.5,172.6 L1481.2,173.3 L1482.0,174.2 L1482.7,175.3 L1483.5,176.8 L1484.2,178.6 L1485.0,180.7 L1485.7,183.1 L1486.5,186.1 L1487.2,189.5 L1488.0,193.1 L1488.7,196.8 L1489.4,200.6 L1490.2,204.6 L1490.9,208.9 L1491.7,213.2 L1492.4,217.4 L1493.2,221.8 L1493.9,226.3 L1494.7,231.0 L1495.4,235.8 L1496.2,240.5 L1496.9,245.1 L1497.7,249.7 L1498.4,254.2 L1499.2,258.8 L1499.9,263.4 L1500.6,268.1 L1501.4,272.7 L1502.1,276.9 L1502.9,281.1 L1503.6,285.4 L1504.4,289.6 L1505.1,293.4 L1505.9,296.5 L1506.6,298.1 L1507.4,298.8 L1508.1,299.4 L1508.9,300.1 L1509.6,300.7 L1510.3,301.4 L1511.1,302.1 L1511.8,302.7 L1512.6,303.4 L1513.3,304.0 L1514.1,304.7 L1514.8,305.3 L1515.6,305.9 L1516.3,306.6 L1517.1,307.3 L1517.8,308.1 L1518.6,309.0 L1519.3,309.9 L1520.0,310.8 L1520.8,311.7 L1521.5,312.6 L1522.3,313.5 L1523.0,314.4 L1523.8,315.3 L1524.5,316.2 L1525.3,317.0 L1526.0,317.9 L1526.8,318.8 L1527.5,319.7 L1528.3,320.6 L1529.0,321.5 L1529.9,304.6 L1530.8,289.6 L1531.6,274.3 L1532.5,259.3 L1533.4,244.9 L1534.2,230.9 L1535.1,217.4 L1536.0,205.0 L1536.9,194.3 L1537.8,186.4 L1538.6,179.9 L1539.5,174.3 L1540.4,168.9 L1541.2,163.9 L1542.1,159.8 L1543.0,156.5 L1543.9,154.1 L1544.8,152.7 L1545.6,151.7 L1546.5,151.3 L1547.2,151.8 L1548.0,152.6 L1548.7,153.6 L1549.5,154.6 L1550.2,155.8 L1551.0,157.3 L1551.7,159.1 L1552.4,161.1 L1553.2,163.0 L1553.9,165.0 L1554.7,166.6 L1555.4,167.8 L1556.1,168.8 L1556.9,169.5 L1557.6,170.1 L1558.4,170.8 L1559.1,171.7 L1559.9,172.8 L1560.6,174.2 L1561.3,176.0 L1562.1,178.1 L1562.8,180.6 L1563.6,183.5 L1564.3,186.8 L1565.0,190.4 L1565.8,194.0 L1566.5,197.8 L1567.3,201.9 L1568.0,206.2 L1568.8,210.6 L1569.5,215.0 L1570.2,219.4 L1571.0,223.9 L1571.7,228.6 L1572.5,233.4 L1573.2,238.1 L1574.0,242.8 L1574.7,247.3 L1575.4,251.9 L1576.2,256.5 L1576.9,261.2 L1577.7,265.8 L1578.4,270.4 L1579.1,274.7 L1579.9,279.0 L1580.6,283.5 L1581.4,287.9 L1582.1,291.9 L1582.9,295.1 L1583.6,297.0 L1584.3,297.7 L1585.1,298.3 L1585.8,299.0 L1586.6,299.6 L1587.3,300.3 L1588.1,300.9 L1588.8,301.5 L1589.5,302.1 L1590.3,302.8 L1591.0,303.4 L1591.8,304.0 L1592.5,304.6 L1593.2,305.2 L1594.0,305.9 L1594.7,306.8 L1595.5,307.7 L1596.2,308.6 L1597.0,309.6 L1597.7,310.5 L1598.4,311.4 L1599.2,312.3 L1599.9,313.2 L1600.7,314.2 L1601.4,315.1 L1602.1,316.0 L1602.9,316.9 L1603.6,317.8 L1604.4,318.8 L1605.1,319.7 L1605.9,320.6 L1606.7,304.9 L1607.6,289.9 L1608.4,274.0 L1609.3,258.7 L1610.1,244.3 L1611.0,230.3 L1611.8,217.0 L1612.7,204.7 L1613.5,194.1 L1614.4,186.3 L1615.2,179.9 L1616.1,174.2 L1616.9,168.8 L1617.8,163.8 L1618.6,159.6 L1619.5,156.2 L1620.3,153.7 L1621.2,152.2 L1622.0,151.2 L1622.9,150.7 L1623.6,151.3 L1624.4,152.1 L1625.1,153.1 L1625.9,154.2 L1626.6,155.4 L1627.4,156.9 L1628.1,158.7 L1628.9,160.8 L1629.6,162.8 L1630.4,164.6 L1631.1,166.3 L1631.9,167.5 L1632.6,168.5 L1633.4,169.2 L1634.1,169.9 L1634.9,170.6 L1635.6,171.4 L1636.4,172.5 L1637.1,173.9 L1637.9,175.8 L1638.6,177.9 L1639.4,180.4 L1640.1,183.3 L1640.8,186.5 L1641.6,190.0 L1642.3,193.7 L1643.1,197.6 L1643.8,201.8 L1644.6,206.2 L1645.3,210.7 L1646.1,215.2 L1646.8,219.8 L1647.6,224.4 L1648.3,229.1 L1649.1,233.9 L1649.8,238.7 L1650.6,243.4 L1651.3,248.0 L1652.1,252.7 L1652.8,257.4 L1653.6,262.1 L1654.3,266.8 L1655.1,271.4 L1655.8,275.9 L1656.5,280.3 L1657.3,285.0 L1658.0,289.6 L1658.8,293.9 L1659.5,297.3 L1660.3,299.5 L1661.0,300.2 L1661.8,300.8 L1662.5,301.4 L1663.3,302.1 L1664.0,302.7 L1664.8,303.3 L1665.5,303.9 L1666.3,304.5 L1667.0,305.1 L1667.8,305.7 L1668.5,306.3 L1669.3,306.9 L1670.0,307.5 L1670.8,308.2 L1671.5,309.1 L1672.3,310.1 L1673.0,311.0 L1673.7,312.0 L1674.5,313.0 L1675.2,313.9 L1676.0,314.9 L1676.7,315.8 L1677.5,316.8 L1678.2,317.7 L1679.0,318.7 L1679.7,319.7 L1680.5,320.6 L1681.2,321.6 L1682.0,322.5 L1682.7,323.5 L1683.6,309.1 L1684.5,294.0 L1685.3,277.4 L1686.2,261.9 L1687.1,247.3 L1687.9,233.5 L1688.8,220.3 L1689.7,208.0 L1690.5,197.6 L1691.4,189.8 L1692.3,183.3 L1693.1,177.7 L1694.0,172.2 L1694.9,167.1 L1695.8,162.9 L1696.6,159.5 L1697.5,156.8 L1698.4,155.2 L1699.2,154.1 L1700.1,153.6 L1700.8,154.2 L1701.6,155.0 L1702.3,156.0 L1703.1,157.1 L1703.8,158.3 L1704.6,159.7 L1705.3,161.5 L1706.0,163.5 L1706.8,165.4 L1707.5,167.1 L1708.3,168.7 L1709.0,169.9 L1709.8,170.8 L1710.5,171.6 L1711.3,172.3 L1712.0,172.9 L1712.7,173.7 L1713.5,174.7 L1714.2,176.0 L1715.0,177.8 L1715.7,179.9 L1716.5,182.3 L1717.2,185.0 L1717.9,188.0 L1718.7,191.3 L1719.4,194.9 L1720.2,198.6 L1720.9,202.6 L1721.7,207.0 L1722.4,211.5 L1723.1,215.9 L1723.9,220.3 L1724.6,224.8 L1725.4,229.4 L1726.1,234.0 L1726.9,238.5 L1727.6,243.0 L1728.4,247.5 L1729.1,252.0 L1729.8,256.6 L1730.6,261.1 L1731.3,265.6 L1732.1,270.1 L1732.8,274.4 L1733.6,278.8 L1734.3,283.4 L1735.0,288.1 L1735.8,292.4 L1736.5,295.9 L1737.3,298.3 L1738.0,298.9 L1738.8,299.5 L1739.5,300.1 L1740.2,300.6 L1741.0,301.2 L1741.7,301.8 L1742.5,302.4 L1743.2,302.9 L1744.0,303.5 L1744.7,304.0 L1745.5,304.6 L1746.2,305.1 L1746.9,305.7 L1747.7,306.3 L1748.4,307.2 L1749.2,308.2 L1749.9,309.1 L1750.7,310.1 L1751.4,311.0 L1752.1,312.0 L1752.9,312.9 L1753.6,313.9 L1754.4,314.8 L1755.1,315.8 L1755.9,316.7 L1756.6,317.7 L1757.3,318.6 L1758.1,319.6 L1758.8,320.5 L1759.6,321.5 L1760.4,308.3 L1761.3,293.0 L1762.1,275.7 L1762.9,259.8 L1763.8,245.1 L1764.6,231.2 L1765.4,218.1 L1766.3,205.8 L1767.1,195.4 L1767.9,187.6 L1768.8,181.2 L1769.6,175.4 L1770.4,169.9 L1771.3,164.7 L1772.1,160.4 L1773.0,156.9 L1773.8,154.2 L1774.6,152.4 L1775.5,151.3 L1776.3,150.7 L1777.1,151.3 L1777.8,152.1 L1778.6,153.2 L1779.3,154.3 L1780.1,155.6 L1780.8,157.0 L1781.6,158.7 L1782.3,160.8 L1783.1,162.8 L1783.8,164.4 L1784.6,165.9 L1785.3,167.1 L1786.1,168.1 L1786.8,168.9 L1787.6,169.6 L1788.3,170.2 L1789.1,171.0 L1789.8,171.9 L1790.6,173.3 L1791.3,175.0 L1792.1,177.1 L1792.8,179.5 L1793.6,182.1 L1794.3,185.1 L1795.1,188.3 L1795.8,191.9 L1796.6,195.6 L1797.3,199.7 L1798.1,204.2 L1798.9,208.8 L1799.6,213.3 L1800.4,217.8 L1801.1,222.3 L1801.9,226.9 L1802.6,231.5 L1803.4,236.0 L1804.1,240.6 L1804.9,245.1 L1805.6,249.6 L1806.4,254.2 L1807.1,258.8 L1807.9,263.3 L1808.6,267.7 L1809.4,272.2 L1810.1,276.6 L1810.9,281.5 L1811.6,286.3 L1812.4,290.8 L1813.1,294.4 L1813.9,297.2 L1814.6,297.8 L1815.4,298.3 L1816.1,298.9 L1816.9,299.5 L1817.6,300.0 L1818.4,300.6 L1819.1,301.2 L1819.9,301.7 L1820.7,302.2 L1821.4,302.7 L1822.2,303.2 L1822.9,303.7 L1823.7,304.3 L1824.4,304.9 L1825.2,305.9 L1825.9,306.9 L1826.7,307.9 L1827.4,308.8 L1828.2,309.8 L1828.9,310.8 L1829.7,311.8 L1830.4,312.8 L1831.2,313.7 L1831.9,314.7 L1832.7,315.7 L1833.4,316.7 L1834.2,317.7 L1834.9,318.6 L1835.7,319.6 L1836.4,320.6 L1837.3,308.7 L1838.2,293.4 L1839.0,275.6 L1839.9,259.4 L1840.7,244.7 L1841.6,231.0 L1842.4,218.1 L1843.3,205.9 L1844.2,195.7 L1845.0,188.0 L1845.9,181.6 L1846.7,175.9 L1847.6,170.3 L1848.5,165.1 L1849.3,160.7 L1850.2,157.3 L1851.0,154.4 L1851.9,152.5 L1852.7,151.3 L1853.6,150.7 L1854.3,151.3 L1855.1,152.2 L1855.8,153.2 L1856.6,154.4 L1857.3,155.7 L1858.1,157.0 L1858.8,158.8 L1859.6,160.9 L1860.3,162.9 L1861.1,164.4 L1861.8,165.8 L1862.6,167.0 L1863.3,168.1 L1864.0,168.9 L1864.8,169.6 L1865.5,170.2 L1866.3,170.9 L1867.0,171.8 L1867.8,173.1 L1868.5,174.9 L1869.3,177.0 L1870.0,179.3 L1870.8,181.9 L1871.5,184.6 L1872.3,187.8 L1873.0,191.3 L1873.7,195.1 L1874.5,199.1 L1875.2,203.6 L1876.0,208.3 L1876.7,212.8 L1877.5,217.3 L1878.2,221.9 L1879.0,226.4 L1879.7,230.9 L1880.5,235.4 L1881.2,239.9 L1882.0,244.4 L1882.7,248.9 L1883.4,253.5 L1884.2,258.0 L1884.9,262.5 L1885.7,266.9 L1886.4,271.3 L1887.2,275.9 L1887.9,280.8 L1888.7,285.8 L1889.4,290.4 L1890.2,294.2 L1890.9,297.3 L1891.7,297.8 L1892.4,298.4 L1893.2,298.9 L1893.9,299.5 L1894.6,300.0 L1895.4,300.5 L1896.1,301.1 L1896.9,301.5 L1897.6,302.0 L1898.4,302.5 L1899.1,303.0 L1899.9,303.5 L1900.6,304.0 L1901.4,304.6"/>
</g>
<g fill="#000">
<rect x="251" y="1325.54" width="24" height="6"/>
<rect x="251" y="1114.62" width="24" height="6"/>
<rect x="251" y="903.69" width="24" height="6"/>
<rect x="251" y="692.77" width="24" height="6"/>
<rect x="251" y="481.85" width="24" height="6"/>
<rect x="251" y="270.92" width="24" height="6"/>
<rect x="251" y="1220.08" width="11" height="6"/>
<rect x="251" y="1009.15" width="11" height="6"/>
<rect x="251" y="798.23" width="11" height="6"/>
<rect x="251" y="587.31" width="11" height="6"/>
<rect x="251" y="376.38" width="11" height="6"/>
<rect x="251" y="165.46" width="11" height="6"/>
<rect x="529.67" y="1407" width="6" height="24"/>
<rect x="814.33" y="1407" width="6" height="24"/>
<rect x="1099.00" y="1407" width="6" height="24"/>
<rect x="1383.67" y="1407" width="6" height="24"/>
<rect x="1668.33" y="1407" width="6" height="24"/>
<rect x="387.33" y="1420" width="6" height="11"/>
<rect x="672.00" y="1420" width="6" height="11"/>
<rect x="956.67" y="1420" width="6" height="11"/>
<rect x="1241.33" y="1420" width="6" height="11"/>
<rect x="1526.00" y="1420" width="6" height="11"/>
<rect x="1810.67" y="1420" width="6" height="11"/>
</g>
<rect x="248" y="63" width="1708" height="1371" fill="none" stroke="#000" stroke-width="6"/>
<text transform="translate(218.2,1345.44) scale(1,1.018)" text-anchor="end" class="tk">700</text>
<text transform="translate(218.2,1134.52) scale(1,1.018)" text-anchor="end" class="tk">800</text>
<text transform="translate(218.2,923.59) scale(1,1.018)" text-anchor="end" class="tk">900</text>
<text transform="translate(218.2,712.67) scale(1,1.018)" text-anchor="end" class="tk">1000</text>
<text transform="translate(218.2,501.75) scale(1,1.018)" text-anchor="end" class="tk">1100</text>
<text transform="translate(218.2,290.82) scale(1,1.018)" text-anchor="end" class="tk">1200</text>
<text transform="translate(218.2,79.90) scale(1,1.018)" text-anchor="end" class="tk">1300</text>
<text transform="translate(247.50,1508.7) scale(1,1.018)" text-anchor="middle" class="tk">0</text>
<text transform="translate(532.17,1508.7) scale(1,1.018)" text-anchor="middle" class="tk">1000</text>
<text transform="translate(816.83,1508.7) scale(1,1.018)" text-anchor="middle" class="tk">2000</text>
<text transform="translate(1101.50,1508.7) scale(1,1.018)" text-anchor="middle" class="tk">3000</text>
<text transform="translate(1386.17,1508.7) scale(1,1.018)" text-anchor="middle" class="tk">4000</text>
<text transform="translate(1670.83,1508.7) scale(1,1.018)" text-anchor="middle" class="tk">5000</text>
<text transform="translate(1955.50,1508.7) scale(1,1.018)" text-anchor="middle" class="tk">6000</text>
<line x1="1338" y1="735.4" x2="1498" y2="735.4" stroke="#515151" stroke-width="10.4"/>
<g class="lg"><text transform="translate(1534.5,760) scale(1.27,1)" class="beta">β</text><text transform="translate(1587.5,753.40) scale(1.15,0.75)" class="eq">=</text><text x="1649" y="760">2/8</text></g>
<line x1="1338" y1="831.5" x2="1498" y2="831.5" stroke="#f14040" stroke-width="10.4"/>
<g class="lg"><text transform="translate(1534.5,856.7) scale(1.27,1)" class="beta">β</text><text transform="translate(1587.5,850.10) scale(1.15,0.75)" class="eq">=</text><text x="1649" y="856.7">3/7</text></g>
<line x1="1338" y1="928.4" x2="1498" y2="928.4" stroke="#1a6fdf" stroke-width="10.4"/>
<g class="lg"><text transform="translate(1534.5,953.3) scale(1.27,1)" class="beta">β</text><text transform="translate(1587.5,946.70) scale(1.15,0.75)" class="eq">=</text><text x="1649" y="953.3">4/6</text></g>
<line x1="1338" y1="1025" x2="1498" y2="1025" stroke="#37ad6b" stroke-width="10.4"/>
<g class="lg"><text transform="translate(1534.5,1050.3) scale(1.27,1)" class="beta">β</text><text transform="translate(1587.5,1043.70) scale(1.15,0.75)" class="eq">=</text><text x="1649" y="1050.3">5/5</text></g>
<text class="yt" text-anchor="middle" transform="translate(70.7,747.75) rotate(-90)">Temperature (K)</text>
<text class="xt" x="1039.5" y="1626.3"><tspan class="bi">t</tspan><tspan dx="2"> (s)</tspan></text>
</svg>
</body></html>
